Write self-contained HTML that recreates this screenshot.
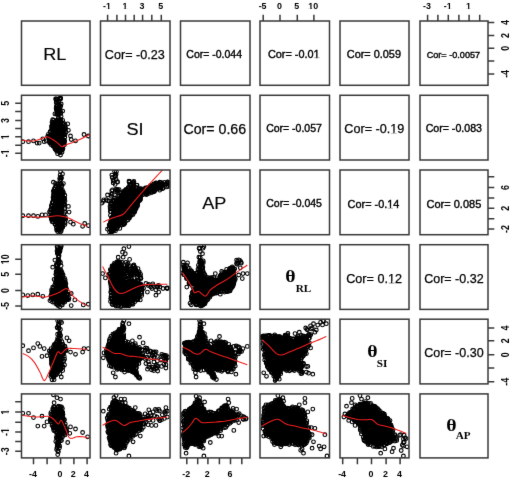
<!DOCTYPE html>
<html><head><meta charset="utf-8"><style>
html,body{margin:0;padding:0;background:#fff;width:510px;height:478px;overflow:hidden}
svg{display:block}

text{font-family:"Liberation Sans",sans-serif;fill:#000;stroke:#000;stroke-width:0}
.sf{font-family:"Liberation Serif",serif;font-weight:bold}
.ax text{font-size:8.9px;text-anchor:middle;font-weight:bold;stroke-width:0}
</style></head><body><div id="w">
<svg width="510" height="478" viewBox="0 0 510 478"><filter id="bl" x="0" y="0" width="1" height="1" color-interpolation-filters="sRGB"><feConvolveMatrix order="3" kernelMatrix="0.0052 0.0619 0.0052 0.0619 0.7314 0.0619 0.0052 0.0619 0.0052" edgeMode="duplicate"/></filter>
<g filter="url(#bl)">
<rect width="510" height="478" fill="#fff"/>
<clipPath id="c21"><rect x="21.5" y="95.3" width="68.5" height="64.7"/></clipPath>
<g clip-path="url(#c21)">
<path d="M54.6 120.1 L52.2 120.8 L51 130.1 L49 136.9 L49.5 142.6 L56.4 149.5 L58.5 155 L59.3 154.6 L61.7 149.9 L64.3 141.9 L64.3 136.2 L66.4 130.8 L65.3 126.4 L63.3 123.9 L61.2 120.1Z" fill="#000"/>
<g fill="none" stroke="#000" stroke-width="1.1">
<circle cx="61.2" cy="121.2" r="1.85"/>
<circle cx="52" cy="128.4" r="1.85"/>
<circle cx="49.1" cy="136.3" r="1.85"/>
<circle cx="56.6" cy="149.9" r="1.85"/>
<circle cx="49.9" cy="142.3" r="1.85"/>
<circle cx="50.1" cy="131.6" r="1.85"/>
<circle cx="50.9" cy="142.8" r="1.85"/>
<circle cx="50.7" cy="134.8" r="1.85"/>
<circle cx="64.1" cy="142.7" r="1.85"/>
<circle cx="50.2" cy="140.6" r="1.85"/>
<circle cx="51.9" cy="125.2" r="1.85"/>
<circle cx="64.6" cy="141.3" r="1.85"/>
<circle cx="52.9" cy="145" r="1.85"/>
<circle cx="65.3" cy="127" r="1.85"/>
<circle cx="49.9" cy="139.3" r="1.85"/>
<circle cx="56.2" cy="148.1" r="1.85"/>
<circle cx="64.3" cy="140.2" r="1.85"/>
<circle cx="50" cy="142.6" r="1.85"/>
<circle cx="56.6" cy="149.8" r="1.85"/>
<circle cx="49.1" cy="141.3" r="1.85"/>
<circle cx="59.7" cy="152.7" r="1.85"/>
<circle cx="52.2" cy="125.8" r="1.85"/>
<circle cx="64.6" cy="133.5" r="1.85"/>
<circle cx="56.8" cy="120.6" r="1.85"/>
<circle cx="48.7" cy="136.6" r="1.85"/>
<circle cx="55.7" cy="148.1" r="1.85"/>
<circle cx="59.9" cy="152.3" r="1.85"/>
<circle cx="61.7" cy="149" r="1.85"/>
<circle cx="50.1" cy="135.5" r="1.85"/>
<circle cx="57.4" cy="120.7" r="1.85"/>
<circle cx="54.7" cy="148" r="1.85"/>
<circle cx="63.9" cy="144.4" r="1.85"/>
<circle cx="53.8" cy="145.8" r="1.85"/>
<circle cx="63.9" cy="139.8" r="1.85"/>
<circle cx="59.6" cy="120.7" r="1.85"/>
<circle cx="55.8" cy="148.4" r="1.85"/>
<circle cx="61.1" cy="122" r="1.85"/>
<circle cx="52.1" cy="127.8" r="1.85"/>
<circle cx="64.1" cy="141.6" r="1.85"/>
<circle cx="62.1" cy="148.8" r="1.85"/>
<circle cx="52.9" cy="145.8" r="1.85"/>
<circle cx="63.7" cy="134.8" r="1.85"/>
<circle cx="62.9" cy="124.2" r="1.85"/>
<circle cx="52" cy="122.2" r="1.85"/>
<circle cx="51.9" cy="127" r="1.85"/>
<circle cx="59.5" cy="120.1" r="1.85"/>
<circle cx="61.3" cy="150" r="1.85"/>
<circle cx="52.1" cy="125.6" r="1.85"/>
<circle cx="57.9" cy="120.2" r="1.85"/>
<circle cx="61.4" cy="150.6" r="1.85"/>
<circle cx="53.4" cy="120.2" r="1.85"/>
<circle cx="52.7" cy="121.9" r="1.85"/>
<circle cx="52.3" cy="124" r="1.85"/>
<circle cx="51.6" cy="126.8" r="1.85"/>
<circle cx="51.4" cy="130.2" r="1.85"/>
<circle cx="50.5" cy="132" r="1.85"/>
<circle cx="48.4" cy="134.3" r="1.85"/>
<circle cx="47.6" cy="136.5" r="1.85"/>
<circle cx="49.1" cy="139.2" r="1.85"/>
<circle cx="49.5" cy="142.5" r="1.85"/>
<circle cx="50.9" cy="144.5" r="1.85"/>
<circle cx="53.3" cy="146.2" r="1.85"/>
<circle cx="55.1" cy="149.2" r="1.85"/>
<circle cx="55.9" cy="149.8" r="1.85"/>
<circle cx="56.7" cy="151.2" r="1.85"/>
<circle cx="57.6" cy="153.7" r="1.85"/>
<circle cx="60.5" cy="155" r="1.85"/>
<circle cx="62" cy="152.3" r="1.85"/>
<circle cx="62.7" cy="149.6" r="1.85"/>
<circle cx="63" cy="148.4" r="1.85"/>
<circle cx="64.5" cy="144.7" r="1.85"/>
<circle cx="64" cy="142.2" r="1.85"/>
<circle cx="63.9" cy="140.2" r="1.85"/>
<circle cx="64.8" cy="137.2" r="1.85"/>
<circle cx="65" cy="134.8" r="1.85"/>
<circle cx="66" cy="132.2" r="1.85"/>
<circle cx="65.5" cy="129.1" r="1.85"/>
<circle cx="65.2" cy="127.9" r="1.85"/>
<circle cx="65.2" cy="125.1" r="1.85"/>
<circle cx="64.2" cy="123.7" r="1.85"/>
<circle cx="62.7" cy="120.4" r="1.85"/>
<circle cx="60" cy="119.2" r="1.85"/>
<circle cx="57.2" cy="120.1" r="1.85"/>
<circle cx="58.4" cy="117.7" r="1.85"/>
<circle cx="60.3" cy="109.8" r="1.85"/>
<circle cx="56.5" cy="110.3" r="1.85"/>
<circle cx="58.3" cy="101.4" r="1.85"/>
<circle cx="56.1" cy="108.2" r="1.85"/>
<circle cx="56.5" cy="106.5" r="1.85"/>
<circle cx="59.5" cy="106.7" r="1.85"/>
<circle cx="57.3" cy="109.4" r="1.85"/>
<circle cx="58.1" cy="113.5" r="1.85"/>
<circle cx="58.7" cy="118.1" r="1.85"/>
<circle cx="61" cy="112.6" r="1.85"/>
<circle cx="57.1" cy="99.5" r="1.85"/>
<circle cx="60.7" cy="113.6" r="1.85"/>
<circle cx="59.2" cy="104.7" r="1.85"/>
<circle cx="57.3" cy="111.6" r="1.85"/>
<circle cx="58.9" cy="109.6" r="1.85"/>
<circle cx="59.3" cy="113" r="1.85"/>
<circle cx="56.9" cy="102.4" r="1.85"/>
<circle cx="61.1" cy="116.4" r="1.85"/>
<circle cx="60.6" cy="98" r="1.85"/>
<circle cx="56.2" cy="102.8" r="1.85"/>
<circle cx="58.1" cy="110.3" r="1.85"/>
<circle cx="56.4" cy="108.5" r="1.85"/>
<circle cx="56.2" cy="98.9" r="1.85"/>
<circle cx="59.5" cy="108.7" r="1.85"/>
<circle cx="59.3" cy="105" r="1.85"/>
<circle cx="58.4" cy="101.6" r="1.85"/>
<circle cx="57.7" cy="112.8" r="1.85"/>
<circle cx="60.4" cy="98.7" r="1.85"/>
<circle cx="56.5" cy="114.2" r="1.85"/>
<circle cx="59.2" cy="113.3" r="1.85"/>
<circle cx="57" cy="106.1" r="1.85"/>
<circle cx="57.2" cy="114.2" r="1.85"/>
<circle cx="57.8" cy="110.9" r="1.85"/>
<circle cx="61.2" cy="104" r="1.85"/>
<circle cx="58.8" cy="112.8" r="1.85"/>
<circle cx="60.8" cy="106.1" r="1.85"/>
<circle cx="57.8" cy="99.2" r="1.85"/>
<circle cx="60.6" cy="98.8" r="1.85"/>
<circle cx="56.3" cy="109" r="1.85"/>
<circle cx="58.5" cy="111.6" r="1.85"/>
<circle cx="57.5" cy="113.5" r="1.85"/>
<circle cx="56.3" cy="101.6" r="1.85"/>
<circle cx="59.4" cy="98.8" r="1.85"/>
<circle cx="22.8" cy="141.7" r="1.85"/>
<circle cx="28.5" cy="141.7" r="1.85"/>
<circle cx="33.5" cy="140.9" r="1.85"/>
<circle cx="37.1" cy="143.1" r="1.85"/>
<circle cx="39.2" cy="143.1" r="1.85"/>
<circle cx="42.8" cy="138.8" r="1.85"/>
<circle cx="44.2" cy="141.7" r="1.85"/>
<circle cx="46.3" cy="140.9" r="1.85"/>
<circle cx="70.5" cy="136" r="1.85"/>
<circle cx="71.2" cy="139.5" r="1.85"/>
<circle cx="75.5" cy="140.9" r="1.85"/>
<circle cx="84" cy="134.5" r="1.85"/>
<circle cx="88.3" cy="136" r="1.85"/>
<circle cx="67.7" cy="123.9" r="1.85"/>
<circle cx="68.4" cy="130.3" r="1.85"/>
<circle cx="55.6" cy="99" r="1.85"/>
<circle cx="59.8" cy="98.3" r="1.85"/>
<circle cx="56.3" cy="106.8" r="1.85"/>
<circle cx="62.7" cy="111.1" r="1.85"/>
<circle cx="54.9" cy="113.9" r="1.85"/>
<circle cx="52.7" cy="119.6" r="1.85"/>
</g>
<path d="M22.1 140.2C23.2 140.3 26.5 140.9 28.5 140.9C30.6 141 32.1 141 34.2 140.7C36.4 140.3 39.2 139.5 41.3 138.8C43.5 138.1 45.1 136.6 47 136.7C48.9 136.8 50.9 138.5 52.7 139.5C54.5 140.6 56.2 141.9 57.7 143.1C59.2 144.3 60.4 146.4 62 146.6C63.5 146.9 65.2 145.2 66.9 144.5C68.7 143.8 70.5 143.2 72.6 142.4C74.8 141.5 76.9 140.8 79.7 139.5C82.6 138.2 88 135.4 89.7 134.5" fill="none" stroke="#f01c1c" stroke-width="1.05"/>
</g>
<clipPath id="c31"><rect x="21.5" y="170" width="68.5" height="64.7"/></clipPath>
<g clip-path="url(#c31)">
<path d="M56.1 184.1 L54.6 189.9 L53.2 199.7 L50.4 214.7 L52.9 220.9 L56.6 226.7 L57.7 231.2 L60.3 231.6 L60.8 231.4 L64.5 224 L65.6 219.4 L63.6 213.9 L64.3 204.9 L64.3 198.2 L60.7 184.1Z" fill="#000"/>
<g fill="none" stroke="#000" stroke-width="1.1">
<circle cx="51.9" cy="218" r="1.85"/>
<circle cx="62.2" cy="226.3" r="1.85"/>
<circle cx="59.1" cy="230.4" r="1.85"/>
<circle cx="51.1" cy="210.1" r="1.85"/>
<circle cx="54" cy="194.4" r="1.85"/>
<circle cx="61.4" cy="227.9" r="1.85"/>
<circle cx="52.4" cy="219.5" r="1.85"/>
<circle cx="55" cy="189.3" r="1.85"/>
<circle cx="53.5" cy="195.1" r="1.85"/>
<circle cx="54.5" cy="192" r="1.85"/>
<circle cx="65.2" cy="222.4" r="1.85"/>
<circle cx="63.2" cy="224.6" r="1.85"/>
<circle cx="51.6" cy="206.9" r="1.85"/>
<circle cx="57.5" cy="229.9" r="1.85"/>
<circle cx="54.9" cy="221.8" r="1.85"/>
<circle cx="56.7" cy="228" r="1.85"/>
<circle cx="63.4" cy="198.8" r="1.85"/>
<circle cx="55" cy="187.4" r="1.85"/>
<circle cx="61" cy="188.8" r="1.85"/>
<circle cx="60.5" cy="184.3" r="1.85"/>
<circle cx="57.4" cy="184.2" r="1.85"/>
<circle cx="53.2" cy="219" r="1.85"/>
<circle cx="55.3" cy="223.7" r="1.85"/>
<circle cx="51.5" cy="216.4" r="1.85"/>
<circle cx="63.2" cy="202.4" r="1.85"/>
<circle cx="61.2" cy="231.1" r="1.85"/>
<circle cx="59.8" cy="184.6" r="1.85"/>
<circle cx="62.3" cy="227.3" r="1.85"/>
<circle cx="63.4" cy="193.2" r="1.85"/>
<circle cx="63.3" cy="197.7" r="1.85"/>
<circle cx="52.8" cy="208.8" r="1.85"/>
<circle cx="50.6" cy="216.1" r="1.85"/>
<circle cx="63.7" cy="203.5" r="1.85"/>
<circle cx="64.5" cy="199.2" r="1.85"/>
<circle cx="64.5" cy="219.1" r="1.85"/>
<circle cx="56.4" cy="186.2" r="1.85"/>
<circle cx="53.9" cy="198.5" r="1.85"/>
<circle cx="63.9" cy="204.1" r="1.85"/>
<circle cx="62.9" cy="194.4" r="1.85"/>
<circle cx="64.4" cy="198.6" r="1.85"/>
<circle cx="58" cy="228.8" r="1.85"/>
<circle cx="53.3" cy="198" r="1.85"/>
<circle cx="51.7" cy="218.8" r="1.85"/>
<circle cx="64" cy="218.2" r="1.85"/>
<circle cx="52.2" cy="217.3" r="1.85"/>
<circle cx="50.8" cy="212.7" r="1.85"/>
<circle cx="54.6" cy="195.8" r="1.85"/>
<circle cx="54" cy="197.2" r="1.85"/>
<circle cx="63.6" cy="216.8" r="1.85"/>
<circle cx="58.4" cy="229.7" r="1.85"/>
<circle cx="52.8" cy="221.4" r="1.85"/>
<circle cx="62.7" cy="195.1" r="1.85"/>
<circle cx="50.6" cy="212.5" r="1.85"/>
<circle cx="63.2" cy="192" r="1.85"/>
<circle cx="54.1" cy="191.4" r="1.85"/>
<circle cx="52.3" cy="205.7" r="1.85"/>
<circle cx="52.3" cy="202.7" r="1.85"/>
<circle cx="63.5" cy="202.1" r="1.85"/>
<circle cx="62.6" cy="194.1" r="1.85"/>
<circle cx="53.3" cy="202.2" r="1.85"/>
<circle cx="51.2" cy="217.1" r="1.85"/>
<circle cx="64.8" cy="218.3" r="1.85"/>
<circle cx="61.6" cy="227.5" r="1.85"/>
<circle cx="55.5" cy="183.5" r="1.85"/>
<circle cx="55.9" cy="186.1" r="1.85"/>
<circle cx="54.2" cy="189.1" r="1.85"/>
<circle cx="53.3" cy="191.1" r="1.85"/>
<circle cx="53.7" cy="193.4" r="1.85"/>
<circle cx="53" cy="197.3" r="1.85"/>
<circle cx="53.2" cy="199.1" r="1.85"/>
<circle cx="52.5" cy="202.4" r="1.85"/>
<circle cx="51.4" cy="205.3" r="1.85"/>
<circle cx="51.2" cy="208.6" r="1.85"/>
<circle cx="50.5" cy="209.9" r="1.85"/>
<circle cx="49.5" cy="211.8" r="1.85"/>
<circle cx="50.6" cy="216.6" r="1.85"/>
<circle cx="51.3" cy="219.3" r="1.85"/>
<circle cx="52.1" cy="221.7" r="1.85"/>
<circle cx="54.8" cy="223.9" r="1.85"/>
<circle cx="55.2" cy="224" r="1.85"/>
<circle cx="56.1" cy="226.6" r="1.85"/>
<circle cx="56.6" cy="230" r="1.85"/>
<circle cx="57.6" cy="231.5" r="1.85"/>
<circle cx="60.4" cy="232" r="1.85"/>
<circle cx="61.3" cy="229.3" r="1.85"/>
<circle cx="62.7" cy="227.2" r="1.85"/>
<circle cx="64.9" cy="224.6" r="1.85"/>
<circle cx="65" cy="222.4" r="1.85"/>
<circle cx="65.7" cy="219.2" r="1.85"/>
<circle cx="65.3" cy="216.8" r="1.85"/>
<circle cx="63.8" cy="213.7" r="1.85"/>
<circle cx="64.9" cy="212.2" r="1.85"/>
<circle cx="64.7" cy="208.9" r="1.85"/>
<circle cx="64.8" cy="207.4" r="1.85"/>
<circle cx="64.9" cy="204.9" r="1.85"/>
<circle cx="65" cy="201" r="1.85"/>
<circle cx="64.6" cy="198.2" r="1.85"/>
<circle cx="64.8" cy="195.2" r="1.85"/>
<circle cx="62.5" cy="192" r="1.85"/>
<circle cx="62.5" cy="190.5" r="1.85"/>
<circle cx="61.3" cy="186.9" r="1.85"/>
<circle cx="62" cy="185.5" r="1.85"/>
<circle cx="61.1" cy="183.6" r="1.85"/>
<circle cx="58.1" cy="184" r="1.85"/>
<circle cx="60.7" cy="177.2" r="1.85"/>
<circle cx="60.8" cy="179.6" r="1.85"/>
<circle cx="62.5" cy="173.9" r="1.85"/>
<circle cx="59.9" cy="180.2" r="1.85"/>
<circle cx="59.7" cy="178.3" r="1.85"/>
<circle cx="61.4" cy="177.9" r="1.85"/>
<circle cx="60.5" cy="171.6" r="1.85"/>
<circle cx="60.1" cy="175.1" r="1.85"/>
<circle cx="61.3" cy="178" r="1.85"/>
<circle cx="22.8" cy="215.7" r="1.85"/>
<circle cx="28.5" cy="215.7" r="1.85"/>
<circle cx="33.5" cy="215.7" r="1.85"/>
<circle cx="37.8" cy="216.4" r="1.85"/>
<circle cx="42" cy="214.9" r="1.85"/>
<circle cx="45.6" cy="214.9" r="1.85"/>
<circle cx="68.4" cy="206.4" r="1.85"/>
<circle cx="69.1" cy="212.1" r="1.85"/>
<circle cx="70.5" cy="222.1" r="1.85"/>
<circle cx="73.3" cy="224.2" r="1.85"/>
<circle cx="82.6" cy="226.3" r="1.85"/>
<circle cx="88.3" cy="225.6" r="1.85"/>
<circle cx="84.7" cy="223.5" r="1.85"/>
<circle cx="53.4" cy="182.2" r="1.85"/>
<circle cx="63.4" cy="183.6" r="1.85"/>
</g>
<path d="M22.1 216.4C24.1 216.5 30.3 217 34.2 217.1C38.1 217.2 41.8 217.3 45.6 217.1C49.4 216.8 53.7 215.7 57 215.7C60.3 215.7 62.9 216.4 65.5 217.1C68.1 217.8 70.3 218.9 72.6 219.9C75 221 77.3 222.4 79.7 223.5C82.2 224.5 86.3 225.8 87.6 226.3" fill="none" stroke="#f01c1c" stroke-width="1.05"/>
</g>
<clipPath id="c32"><rect x="100.5" y="170" width="69.5" height="64.7"/></clipPath>
<g clip-path="url(#c32)">
<path d="M122.1 193.4 L117.5 197.2 L115 198.5 L110.4 205.4 L111.6 209 L110.9 214.9 L111.6 221.1 L109.3 225.7 L108.8 230.2 L109.2 231.4 L113.7 230.9 L124.3 222.9 L128.3 218.9 L136.5 208 L142 194.3 L142.9 190 L138 189 L134.1 187 L129.7 187.6 L125.5 190Z" fill="#000"/>
<g fill="none" stroke="#000" stroke-width="1.1">
<circle cx="134.6" cy="210.7" r="1.85"/>
<circle cx="116.7" cy="197.9" r="1.85"/>
<circle cx="111.9" cy="218.5" r="1.85"/>
<circle cx="135.4" cy="208.3" r="1.85"/>
<circle cx="138.8" cy="189" r="1.85"/>
<circle cx="112.7" cy="203.6" r="1.85"/>
<circle cx="142.3" cy="192.7" r="1.85"/>
<circle cx="132.6" cy="211.3" r="1.85"/>
<circle cx="139.6" cy="200.6" r="1.85"/>
<circle cx="131.3" cy="214.8" r="1.85"/>
<circle cx="142.9" cy="191.2" r="1.85"/>
<circle cx="134.4" cy="211.3" r="1.85"/>
<circle cx="112.2" cy="231.2" r="1.85"/>
<circle cx="141" cy="193.5" r="1.85"/>
<circle cx="112.8" cy="231.3" r="1.85"/>
<circle cx="110.9" cy="211.7" r="1.85"/>
<circle cx="135.9" cy="208.8" r="1.85"/>
<circle cx="122" cy="225" r="1.85"/>
<circle cx="110.9" cy="231.2" r="1.85"/>
<circle cx="129.5" cy="218" r="1.85"/>
<circle cx="120.9" cy="195.5" r="1.85"/>
<circle cx="123.2" cy="223.7" r="1.85"/>
<circle cx="118.3" cy="226" r="1.85"/>
<circle cx="122.8" cy="192.6" r="1.85"/>
<circle cx="139.7" cy="198" r="1.85"/>
<circle cx="131.8" cy="214" r="1.85"/>
<circle cx="110.7" cy="207.5" r="1.85"/>
<circle cx="112.3" cy="222.3" r="1.85"/>
<circle cx="110.1" cy="224.4" r="1.85"/>
<circle cx="134.6" cy="208.6" r="1.85"/>
<circle cx="126.4" cy="220.7" r="1.85"/>
<circle cx="136.2" cy="205.8" r="1.85"/>
<circle cx="111.4" cy="231.1" r="1.85"/>
<circle cx="130.7" cy="187.6" r="1.85"/>
<circle cx="140.4" cy="190" r="1.85"/>
<circle cx="112" cy="220.2" r="1.85"/>
<circle cx="137.8" cy="202.8" r="1.85"/>
<circle cx="110.6" cy="223.9" r="1.85"/>
<circle cx="134" cy="210.8" r="1.85"/>
<circle cx="138.9" cy="189.4" r="1.85"/>
<circle cx="126.6" cy="190.1" r="1.85"/>
<circle cx="125.4" cy="190.2" r="1.85"/>
<circle cx="129" cy="217.6" r="1.85"/>
<circle cx="141" cy="190.5" r="1.85"/>
<circle cx="137.5" cy="205" r="1.85"/>
<circle cx="111.1" cy="221.1" r="1.85"/>
<circle cx="141.4" cy="195.3" r="1.85"/>
<circle cx="135" cy="210.4" r="1.85"/>
<circle cx="141.5" cy="190.3" r="1.85"/>
<circle cx="114" cy="201.5" r="1.85"/>
<circle cx="115" cy="229.3" r="1.85"/>
<circle cx="140.3" cy="197.2" r="1.85"/>
<circle cx="111.8" cy="217.7" r="1.85"/>
<circle cx="111.5" cy="209.1" r="1.85"/>
<circle cx="117.3" cy="227.4" r="1.85"/>
<circle cx="116.9" cy="228.2" r="1.85"/>
<circle cx="112.2" cy="231" r="1.85"/>
<circle cx="138.9" cy="200.7" r="1.85"/>
<circle cx="140.3" cy="199.7" r="1.85"/>
<circle cx="109.6" cy="225.6" r="1.85"/>
<circle cx="141.9" cy="192.1" r="1.85"/>
<circle cx="139.9" cy="198" r="1.85"/>
<circle cx="123.5" cy="191.4" r="1.85"/>
<circle cx="139.5" cy="189.2" r="1.85"/>
<circle cx="110.9" cy="204.3" r="1.85"/>
<circle cx="124.8" cy="191.4" r="1.85"/>
<circle cx="123.1" cy="193.2" r="1.85"/>
<circle cx="137.4" cy="203.8" r="1.85"/>
<circle cx="113.6" cy="200.7" r="1.85"/>
<circle cx="132.7" cy="187.9" r="1.85"/>
<circle cx="123.8" cy="223.3" r="1.85"/>
<circle cx="113.6" cy="230.2" r="1.85"/>
<circle cx="123.5" cy="224" r="1.85"/>
<circle cx="110.6" cy="224.6" r="1.85"/>
<circle cx="121.4" cy="192.8" r="1.85"/>
<circle cx="119.5" cy="195.7" r="1.85"/>
<circle cx="117.8" cy="196.1" r="1.85"/>
<circle cx="114.5" cy="198.2" r="1.85"/>
<circle cx="113.2" cy="200.1" r="1.85"/>
<circle cx="111.4" cy="202.6" r="1.85"/>
<circle cx="110.7" cy="204" r="1.85"/>
<circle cx="110" cy="206.4" r="1.85"/>
<circle cx="110.2" cy="208.8" r="1.85"/>
<circle cx="110.3" cy="211.5" r="1.85"/>
<circle cx="110.4" cy="215.3" r="1.85"/>
<circle cx="111.5" cy="217.6" r="1.85"/>
<circle cx="111.4" cy="220.6" r="1.85"/>
<circle cx="110.3" cy="222.3" r="1.85"/>
<circle cx="109.2" cy="224.9" r="1.85"/>
<circle cx="109.3" cy="228.2" r="1.85"/>
<circle cx="107.5" cy="229.2" r="1.85"/>
<circle cx="109.5" cy="232" r="1.85"/>
<circle cx="111.3" cy="232.2" r="1.85"/>
<circle cx="115.5" cy="230.7" r="1.85"/>
<circle cx="117" cy="228.6" r="1.85"/>
<circle cx="119.8" cy="228.4" r="1.85"/>
<circle cx="122.2" cy="224.6" r="1.85"/>
<circle cx="123.8" cy="224.6" r="1.85"/>
<circle cx="124.8" cy="223.4" r="1.85"/>
<circle cx="128" cy="219.9" r="1.85"/>
<circle cx="128.4" cy="217.6" r="1.85"/>
<circle cx="130.6" cy="216.1" r="1.85"/>
<circle cx="133" cy="214.5" r="1.85"/>
<circle cx="134" cy="212.4" r="1.85"/>
<circle cx="134.8" cy="211.7" r="1.85"/>
<circle cx="136.3" cy="208" r="1.85"/>
<circle cx="137.5" cy="206" r="1.85"/>
<circle cx="137.9" cy="202.7" r="1.85"/>
<circle cx="139.3" cy="199.9" r="1.85"/>
<circle cx="140.5" cy="199.1" r="1.85"/>
<circle cx="140.9" cy="196.3" r="1.85"/>
<circle cx="143.1" cy="194.5" r="1.85"/>
<circle cx="142.3" cy="189.7" r="1.85"/>
<circle cx="141" cy="188.7" r="1.85"/>
<circle cx="139.7" cy="189" r="1.85"/>
<circle cx="136.1" cy="187.3" r="1.85"/>
<circle cx="133.7" cy="187" r="1.85"/>
<circle cx="132.9" cy="186" r="1.85"/>
<circle cx="129.3" cy="187.9" r="1.85"/>
<circle cx="128.1" cy="187.7" r="1.85"/>
<circle cx="126" cy="189.3" r="1.85"/>
<circle cx="124.3" cy="191.8" r="1.85"/>
<circle cx="150.5" cy="185.6" r="1.85"/>
<circle cx="160.4" cy="187" r="1.85"/>
<circle cx="162.7" cy="188.5" r="1.85"/>
<circle cx="146" cy="188.5" r="1.85"/>
<circle cx="154.2" cy="189.1" r="1.85"/>
<circle cx="149.1" cy="188.6" r="1.85"/>
<circle cx="158.8" cy="184.9" r="1.85"/>
<circle cx="149.3" cy="191.8" r="1.85"/>
<circle cx="146.5" cy="193.8" r="1.85"/>
<circle cx="145.8" cy="193.3" r="1.85"/>
<circle cx="166.7" cy="186.9" r="1.85"/>
<circle cx="167.7" cy="182" r="1.85"/>
<circle cx="149.6" cy="190.6" r="1.85"/>
<circle cx="158.1" cy="186.9" r="1.85"/>
<circle cx="148.3" cy="189.6" r="1.85"/>
<circle cx="157.4" cy="187" r="1.85"/>
<circle cx="160.1" cy="184.3" r="1.85"/>
<circle cx="154.4" cy="189.2" r="1.85"/>
<circle cx="168.3" cy="183.4" r="1.85"/>
<circle cx="154.2" cy="191.6" r="1.85"/>
<circle cx="153.9" cy="191.6" r="1.85"/>
<circle cx="167.5" cy="182.1" r="1.85"/>
<circle cx="151.7" cy="185.7" r="1.85"/>
<circle cx="149.2" cy="187.1" r="1.85"/>
<circle cx="153.7" cy="190.1" r="1.85"/>
<circle cx="148.2" cy="187.3" r="1.85"/>
<circle cx="158.8" cy="183.4" r="1.85"/>
<circle cx="164.3" cy="182.4" r="1.85"/>
<circle cx="160.4" cy="185.5" r="1.85"/>
<circle cx="152.7" cy="190.1" r="1.85"/>
<circle cx="149.4" cy="187.9" r="1.85"/>
<circle cx="151.2" cy="186.7" r="1.85"/>
<circle cx="162.1" cy="184.2" r="1.85"/>
<circle cx="166" cy="184.3" r="1.85"/>
<circle cx="158.6" cy="186.3" r="1.85"/>
<circle cx="160.7" cy="182.4" r="1.85"/>
<circle cx="162.6" cy="184.8" r="1.85"/>
<circle cx="155.2" cy="186" r="1.85"/>
<circle cx="154.6" cy="186" r="1.85"/>
<circle cx="163.3" cy="188.1" r="1.85"/>
<circle cx="161.9" cy="183.7" r="1.85"/>
<circle cx="149.7" cy="190.3" r="1.85"/>
<circle cx="155" cy="184.1" r="1.85"/>
<circle cx="145.4" cy="188" r="1.85"/>
<circle cx="158" cy="183.3" r="1.85"/>
<circle cx="151.8" cy="192.5" r="1.85"/>
<circle cx="160.5" cy="188.2" r="1.85"/>
<circle cx="151.2" cy="190.1" r="1.85"/>
<circle cx="157.4" cy="188.8" r="1.85"/>
<circle cx="151.9" cy="188" r="1.85"/>
<circle cx="156.8" cy="187.2" r="1.85"/>
<circle cx="156.7" cy="186.6" r="1.85"/>
<circle cx="161.7" cy="183.7" r="1.85"/>
<circle cx="148.3" cy="187.5" r="1.85"/>
<circle cx="155.8" cy="185.7" r="1.85"/>
<circle cx="146.2" cy="191.1" r="1.85"/>
<circle cx="149.9" cy="187.9" r="1.85"/>
<circle cx="159.8" cy="182.2" r="1.85"/>
<circle cx="168.2" cy="186.3" r="1.85"/>
<circle cx="148.2" cy="192.6" r="1.85"/>
<circle cx="161" cy="188.2" r="1.85"/>
<circle cx="159.8" cy="188.2" r="1.85"/>
<circle cx="149.8" cy="190.7" r="1.85"/>
<circle cx="146.4" cy="194.7" r="1.85"/>
<circle cx="152.6" cy="191.8" r="1.85"/>
<circle cx="145.6" cy="188.7" r="1.85"/>
<circle cx="148.1" cy="189.3" r="1.85"/>
<circle cx="150.8" cy="189.4" r="1.85"/>
<circle cx="153" cy="187.5" r="1.85"/>
<circle cx="156.3" cy="183.2" r="1.85"/>
<circle cx="160.8" cy="186.7" r="1.85"/>
<circle cx="153.9" cy="184" r="1.85"/>
<circle cx="147.8" cy="191.5" r="1.85"/>
<circle cx="159.7" cy="190.2" r="1.85"/>
<circle cx="154.8" cy="190.7" r="1.85"/>
<circle cx="154" cy="187.4" r="1.85"/>
<circle cx="153.8" cy="190.7" r="1.85"/>
<circle cx="153.4" cy="186.5" r="1.85"/>
<circle cx="154.3" cy="190.7" r="1.85"/>
<circle cx="150.9" cy="186" r="1.85"/>
<circle cx="147.1" cy="192.9" r="1.85"/>
<circle cx="106.3" cy="199.6" r="1.85"/>
<circle cx="116.4" cy="171.8" r="1.85"/>
<circle cx="117.6" cy="190.6" r="1.85"/>
<circle cx="113.8" cy="181.3" r="1.85"/>
<circle cx="109" cy="201" r="1.85"/>
<circle cx="119.1" cy="189.6" r="1.85"/>
<circle cx="116.9" cy="192" r="1.85"/>
<circle cx="111.3" cy="196.3" r="1.85"/>
<circle cx="115.2" cy="176" r="1.85"/>
<circle cx="112.1" cy="194.2" r="1.85"/>
<circle cx="115.6" cy="189.5" r="1.85"/>
<circle cx="113.1" cy="180" r="1.85"/>
<circle cx="117.4" cy="181.7" r="1.85"/>
<circle cx="103.7" cy="199.8" r="1.85"/>
<circle cx="117.2" cy="190.2" r="1.85"/>
<circle cx="115.1" cy="184.4" r="1.85"/>
<circle cx="112.2" cy="177.5" r="1.85"/>
<circle cx="115.3" cy="174.3" r="1.85"/>
<circle cx="112.5" cy="189.9" r="1.85"/>
<circle cx="101.9" cy="203.1" r="1.85"/>
<circle cx="129.5" cy="185.4" r="1.85"/>
<circle cx="137.1" cy="185.3" r="1.85"/>
<circle cx="129" cy="181.1" r="1.85"/>
<circle cx="130.4" cy="185.9" r="1.85"/>
<circle cx="129.1" cy="182.3" r="1.85"/>
<circle cx="130.5" cy="184.2" r="1.85"/>
<circle cx="136.7" cy="185.1" r="1.85"/>
<circle cx="133" cy="183" r="1.85"/>
<circle cx="133.4" cy="182.5" r="1.85"/>
<circle cx="133.3" cy="184.5" r="1.85"/>
<circle cx="103.3" cy="201.4" r="1.85"/>
<circle cx="107.5" cy="200.7" r="1.85"/>
<circle cx="107.5" cy="195" r="1.85"/>
<circle cx="111.1" cy="194.3" r="1.85"/>
<circle cx="111.8" cy="190.8" r="1.85"/>
<circle cx="115.4" cy="191.5" r="1.85"/>
<circle cx="117.5" cy="189.3" r="1.85"/>
<circle cx="113.2" cy="182.9" r="1.85"/>
<circle cx="111.8" cy="175.1" r="1.85"/>
<circle cx="116.1" cy="174.4" r="1.85"/>
<circle cx="114.6" cy="171.6" r="1.85"/>
<circle cx="115.4" cy="176.5" r="1.85"/>
<circle cx="116.1" cy="179.4" r="1.85"/>
<circle cx="117.5" cy="182.2" r="1.85"/>
<circle cx="129.6" cy="181.5" r="1.85"/>
<circle cx="133.9" cy="181.5" r="1.85"/>
<circle cx="148.8" cy="193.6" r="1.85"/>
<circle cx="150.2" cy="189.3" r="1.85"/>
<circle cx="153.1" cy="187.9" r="1.85"/>
<circle cx="155.9" cy="182.9" r="1.85"/>
<circle cx="160.2" cy="185.1" r="1.85"/>
<circle cx="163" cy="183.6" r="1.85"/>
<circle cx="167.3" cy="183.6" r="1.85"/>
<circle cx="168.7" cy="184.4" r="1.85"/>
<circle cx="157.3" cy="187.9" r="1.85"/>
<circle cx="161.6" cy="186.5" r="1.85"/>
<circle cx="148.1" cy="190.8" r="1.85"/>
</g>
<path d="M103.3 222.1C104.9 221.3 109.9 219.1 113.2 217.8C116.5 216.5 120.6 215.9 123.2 214.2C125.8 212.6 126.7 210.3 128.9 207.8C131 205.3 133.1 202.6 136 199.3C138.8 196 141.4 192.9 145.9 187.9C150.4 182.9 160.2 172.5 163 169.4" fill="none" stroke="#f01c1c" stroke-width="1.05"/>
</g>
<clipPath id="c41"><rect x="21.5" y="244.7" width="68.5" height="64.7"/></clipPath>
<g clip-path="url(#c41)">
<path d="M57.8 261.2 L56.7 267.5 L56 276 L54.5 286.5 L51.7 292.1 L51.1 298 L52.6 301 L59.7 306 L65.3 300.7 L68.1 298.8 L67.3 296.3 L65.8 288.9 L65.1 282 L60.1 267.8 L59 261.2Z" fill="#000"/>
<g fill="none" stroke="#000" stroke-width="1.1">
<circle cx="67.6" cy="299.1" r="1.85"/>
<circle cx="51" cy="295.8" r="1.85"/>
<circle cx="56.1" cy="281.5" r="1.85"/>
<circle cx="61.5" cy="304.7" r="1.85"/>
<circle cx="56.1" cy="281" r="1.85"/>
<circle cx="65.7" cy="292" r="1.85"/>
<circle cx="54.3" cy="301.9" r="1.85"/>
<circle cx="55.9" cy="280" r="1.85"/>
<circle cx="56.8" cy="271.2" r="1.85"/>
<circle cx="62.8" cy="276.2" r="1.85"/>
<circle cx="56" cy="274.5" r="1.85"/>
<circle cx="59.3" cy="261.7" r="1.85"/>
<circle cx="64.8" cy="286.3" r="1.85"/>
<circle cx="64.1" cy="283.8" r="1.85"/>
<circle cx="66.7" cy="294" r="1.85"/>
<circle cx="57.4" cy="304.2" r="1.85"/>
<circle cx="63.8" cy="301" r="1.85"/>
<circle cx="52.1" cy="293.3" r="1.85"/>
<circle cx="56.8" cy="265.6" r="1.85"/>
<circle cx="66.9" cy="298.7" r="1.85"/>
<circle cx="67.3" cy="299.3" r="1.85"/>
<circle cx="51.8" cy="294.2" r="1.85"/>
<circle cx="63.1" cy="277.6" r="1.85"/>
<circle cx="66.8" cy="293.9" r="1.85"/>
<circle cx="65.1" cy="282" r="1.85"/>
<circle cx="62.9" cy="302.5" r="1.85"/>
<circle cx="58.9" cy="261.5" r="1.85"/>
<circle cx="66.1" cy="288.8" r="1.85"/>
<circle cx="65.6" cy="289.4" r="1.85"/>
<circle cx="56.2" cy="278.9" r="1.85"/>
<circle cx="55.9" cy="283.2" r="1.85"/>
<circle cx="57" cy="273.9" r="1.85"/>
<circle cx="66.2" cy="294.7" r="1.85"/>
<circle cx="52" cy="291.4" r="1.85"/>
<circle cx="65.3" cy="283.5" r="1.85"/>
<circle cx="58.7" cy="262.1" r="1.85"/>
<circle cx="57.3" cy="269.5" r="1.85"/>
<circle cx="57.3" cy="304.3" r="1.85"/>
<circle cx="57" cy="264.6" r="1.85"/>
<circle cx="57.1" cy="270.2" r="1.85"/>
<circle cx="55.7" cy="286.1" r="1.85"/>
<circle cx="52.3" cy="292.6" r="1.85"/>
<circle cx="58.2" cy="263.1" r="1.85"/>
<circle cx="52.2" cy="297.6" r="1.85"/>
<circle cx="52.8" cy="290.2" r="1.85"/>
<circle cx="64.4" cy="282.5" r="1.85"/>
<circle cx="51.8" cy="291.8" r="1.85"/>
<circle cx="58.6" cy="263.4" r="1.85"/>
<circle cx="64.8" cy="286.9" r="1.85"/>
<circle cx="58.9" cy="263.7" r="1.85"/>
<circle cx="65.5" cy="288.7" r="1.85"/>
<circle cx="65.7" cy="287.6" r="1.85"/>
<circle cx="51.2" cy="297.7" r="1.85"/>
<circle cx="67" cy="295" r="1.85"/>
<circle cx="62.8" cy="301.6" r="1.85"/>
<circle cx="56.9" cy="304.4" r="1.85"/>
<circle cx="61.1" cy="272.6" r="1.85"/>
<circle cx="62.3" cy="275" r="1.85"/>
<circle cx="61.6" cy="271.9" r="1.85"/>
<circle cx="58" cy="260.3" r="1.85"/>
<circle cx="56.3" cy="264.4" r="1.85"/>
<circle cx="57" cy="268.2" r="1.85"/>
<circle cx="56.3" cy="271.2" r="1.85"/>
<circle cx="56.1" cy="272" r="1.85"/>
<circle cx="55.9" cy="274.2" r="1.85"/>
<circle cx="56.1" cy="278.2" r="1.85"/>
<circle cx="54.1" cy="279.4" r="1.85"/>
<circle cx="55.4" cy="282.8" r="1.85"/>
<circle cx="54.5" cy="285.5" r="1.85"/>
<circle cx="53.3" cy="288.2" r="1.85"/>
<circle cx="51.6" cy="289.8" r="1.85"/>
<circle cx="52.1" cy="292.9" r="1.85"/>
<circle cx="51" cy="295.4" r="1.85"/>
<circle cx="51.3" cy="296.7" r="1.85"/>
<circle cx="51.2" cy="299.4" r="1.85"/>
<circle cx="52.5" cy="302" r="1.85"/>
<circle cx="55.7" cy="303.7" r="1.85"/>
<circle cx="58.2" cy="305.7" r="1.85"/>
<circle cx="59.9" cy="306.8" r="1.85"/>
<circle cx="62.3" cy="304.9" r="1.85"/>
<circle cx="64.8" cy="302.1" r="1.85"/>
<circle cx="65.9" cy="300.2" r="1.85"/>
<circle cx="68.6" cy="299.7" r="1.85"/>
<circle cx="69" cy="298.3" r="1.85"/>
<circle cx="68.3" cy="294.5" r="1.85"/>
<circle cx="66" cy="290.9" r="1.85"/>
<circle cx="66.6" cy="289.2" r="1.85"/>
<circle cx="65.8" cy="286.5" r="1.85"/>
<circle cx="65.9" cy="283.7" r="1.85"/>
<circle cx="65.2" cy="280.1" r="1.85"/>
<circle cx="64.6" cy="278.3" r="1.85"/>
<circle cx="63.1" cy="274.8" r="1.85"/>
<circle cx="62.2" cy="273" r="1.85"/>
<circle cx="60.8" cy="271" r="1.85"/>
<circle cx="61" cy="270.1" r="1.85"/>
<circle cx="61.1" cy="265.7" r="1.85"/>
<circle cx="60.5" cy="262.5" r="1.85"/>
<circle cx="59" cy="260.2" r="1.85"/>
<circle cx="57.8" cy="251.1" r="1.85"/>
<circle cx="61.1" cy="246.7" r="1.85"/>
<circle cx="59" cy="251.5" r="1.85"/>
<circle cx="59.1" cy="255.8" r="1.85"/>
<circle cx="59.4" cy="249.5" r="1.85"/>
<circle cx="57.3" cy="252.5" r="1.85"/>
<circle cx="61.1" cy="245.8" r="1.85"/>
<circle cx="59.7" cy="251.7" r="1.85"/>
<circle cx="57.4" cy="247.3" r="1.85"/>
<circle cx="57" cy="251" r="1.85"/>
<circle cx="58.3" cy="253.3" r="1.85"/>
<circle cx="57.3" cy="253.5" r="1.85"/>
<circle cx="58.6" cy="255.9" r="1.85"/>
<circle cx="60.7" cy="248.3" r="1.85"/>
<circle cx="57.7" cy="248.6" r="1.85"/>
<circle cx="60.1" cy="251" r="1.85"/>
<circle cx="57" cy="246.6" r="1.85"/>
<circle cx="59.8" cy="248.7" r="1.85"/>
<circle cx="59.1" cy="253" r="1.85"/>
<circle cx="58.4" cy="257.2" r="1.85"/>
<circle cx="22.8" cy="294.9" r="1.85"/>
<circle cx="27.8" cy="295.6" r="1.85"/>
<circle cx="32.8" cy="294.9" r="1.85"/>
<circle cx="37.8" cy="294.2" r="1.85"/>
<circle cx="42.8" cy="296.3" r="1.85"/>
<circle cx="71.2" cy="293.5" r="1.85"/>
<circle cx="74.8" cy="299.9" r="1.85"/>
<circle cx="71.2" cy="305.6" r="1.85"/>
<circle cx="83.3" cy="304.9" r="1.85"/>
<circle cx="88.3" cy="304.2" r="1.85"/>
<circle cx="52.7" cy="267.2" r="1.85"/>
<circle cx="54.9" cy="260.1" r="1.85"/>
<circle cx="52.7" cy="287.1" r="1.85"/>
<circle cx="49.9" cy="300.6" r="1.85"/>
</g>
<path d="M22.1 297.1C23.2 296.9 26.5 296.5 28.5 296.3C30.6 296.2 32.1 295.8 34.2 295.9C36.4 296 39.4 296.6 41.3 296.8C43.2 297 43.9 297.2 45.6 297.1C47.3 296.9 49.2 296.3 51.3 295.6C53.4 294.9 56 293.9 58.4 292.8C60.8 291.6 63.7 289.3 65.5 288.8C67.3 288.3 67.9 288.8 69.1 289.9C70.3 291.1 71.1 293.9 72.6 295.6C74.2 297.4 76 299 78.3 300.6C80.7 302.3 85.4 304.8 86.9 305.6" fill="none" stroke="#f01c1c" stroke-width="1.05"/>
</g>
<clipPath id="c42"><rect x="100.5" y="244.7" width="69.5" height="64.7"/></clipPath>
<g clip-path="url(#c42)">
<path d="M110.1 270.7 L110.1 277 L112.1 304 L114.1 305.2 L120.3 305.8 L126.9 305.2 L133.4 303.2 L136.8 301 L142.1 290.5 L143.1 286.5 L139.1 282.7 L134 281.8 L124.4 279.2 L122.8 268.4 L121.6 263 L119.6 261.4 L117.2 261.8 L113.8 264.6Z" fill="#000"/>
<g fill="none" stroke="#000" stroke-width="1.1">
<circle cx="128.7" cy="304" r="1.85"/>
<circle cx="111.5" cy="298" r="1.85"/>
<circle cx="119" cy="262.3" r="1.85"/>
<circle cx="126.3" cy="304.8" r="1.85"/>
<circle cx="121" cy="306.1" r="1.85"/>
<circle cx="130.7" cy="281.1" r="1.85"/>
<circle cx="138" cy="296.5" r="1.85"/>
<circle cx="113.2" cy="266.8" r="1.85"/>
<circle cx="140.9" cy="292.1" r="1.85"/>
<circle cx="111.3" cy="295.7" r="1.85"/>
<circle cx="112" cy="269.5" r="1.85"/>
<circle cx="110.1" cy="273.6" r="1.85"/>
<circle cx="119.2" cy="261.8" r="1.85"/>
<circle cx="110.7" cy="284.7" r="1.85"/>
<circle cx="122" cy="268.2" r="1.85"/>
<circle cx="132.4" cy="303.5" r="1.85"/>
<circle cx="115" cy="264.3" r="1.85"/>
<circle cx="131.4" cy="281" r="1.85"/>
<circle cx="135.5" cy="282.7" r="1.85"/>
<circle cx="126.3" cy="280.3" r="1.85"/>
<circle cx="110.6" cy="282.2" r="1.85"/>
<circle cx="111.1" cy="290.2" r="1.85"/>
<circle cx="131.7" cy="282.1" r="1.85"/>
<circle cx="112.5" cy="298.8" r="1.85"/>
<circle cx="142.1" cy="286.2" r="1.85"/>
<circle cx="120.6" cy="263.5" r="1.85"/>
<circle cx="138" cy="296.6" r="1.85"/>
<circle cx="110.2" cy="281.4" r="1.85"/>
<circle cx="125" cy="304.8" r="1.85"/>
<circle cx="140.7" cy="285" r="1.85"/>
<circle cx="111.4" cy="295.3" r="1.85"/>
<circle cx="113.8" cy="265.6" r="1.85"/>
<circle cx="123.2" cy="276.8" r="1.85"/>
<circle cx="124" cy="276.9" r="1.85"/>
<circle cx="141.2" cy="289.1" r="1.85"/>
<circle cx="112.1" cy="267.2" r="1.85"/>
<circle cx="111.5" cy="299" r="1.85"/>
<circle cx="112.9" cy="302.3" r="1.85"/>
<circle cx="117.8" cy="262.2" r="1.85"/>
<circle cx="137" cy="299.7" r="1.85"/>
<circle cx="114.7" cy="304.7" r="1.85"/>
<circle cx="118" cy="261.8" r="1.85"/>
<circle cx="139.6" cy="283.6" r="1.85"/>
<circle cx="132.7" cy="282.2" r="1.85"/>
<circle cx="112.8" cy="304.7" r="1.85"/>
<circle cx="127.1" cy="305.3" r="1.85"/>
<circle cx="139.2" cy="296" r="1.85"/>
<circle cx="131.4" cy="304.1" r="1.85"/>
<circle cx="111.5" cy="270" r="1.85"/>
<circle cx="112.2" cy="290.2" r="1.85"/>
<circle cx="141.9" cy="289.7" r="1.85"/>
<circle cx="131.8" cy="302.9" r="1.85"/>
<circle cx="122.1" cy="270.6" r="1.85"/>
<circle cx="137.2" cy="282.3" r="1.85"/>
<circle cx="137.9" cy="298.7" r="1.85"/>
<circle cx="110.7" cy="276.2" r="1.85"/>
<circle cx="121.6" cy="266.8" r="1.85"/>
<circle cx="118" cy="306" r="1.85"/>
<circle cx="121.7" cy="305.2" r="1.85"/>
<circle cx="142.3" cy="289.7" r="1.85"/>
<circle cx="117.4" cy="263.2" r="1.85"/>
<circle cx="111" cy="270.4" r="1.85"/>
<circle cx="111.3" cy="279.1" r="1.85"/>
<circle cx="137.3" cy="282.7" r="1.85"/>
<circle cx="140.6" cy="285.6" r="1.85"/>
<circle cx="122.8" cy="275.1" r="1.85"/>
<circle cx="117.1" cy="261.9" r="1.85"/>
<circle cx="133.6" cy="281.9" r="1.85"/>
<circle cx="141.9" cy="289.6" r="1.85"/>
<circle cx="123.5" cy="274.2" r="1.85"/>
<circle cx="141.8" cy="289.7" r="1.85"/>
<circle cx="111.4" cy="292.1" r="1.85"/>
<circle cx="126.8" cy="279.6" r="1.85"/>
<circle cx="121.3" cy="265.1" r="1.85"/>
<circle cx="110.7" cy="277.3" r="1.85"/>
<circle cx="122.9" cy="273.4" r="1.85"/>
<circle cx="112.4" cy="266.5" r="1.85"/>
<circle cx="110.7" cy="273" r="1.85"/>
<circle cx="109.1" cy="274.2" r="1.85"/>
<circle cx="109" cy="276.2" r="1.85"/>
<circle cx="110.8" cy="280.7" r="1.85"/>
<circle cx="110.6" cy="282.5" r="1.85"/>
<circle cx="111.3" cy="285.7" r="1.85"/>
<circle cx="111" cy="287.4" r="1.85"/>
<circle cx="111.6" cy="290" r="1.85"/>
<circle cx="110.7" cy="292.3" r="1.85"/>
<circle cx="111" cy="296.2" r="1.85"/>
<circle cx="110.7" cy="298.4" r="1.85"/>
<circle cx="110.5" cy="301.6" r="1.85"/>
<circle cx="112.3" cy="301.7" r="1.85"/>
<circle cx="112.1" cy="304.2" r="1.85"/>
<circle cx="116" cy="306" r="1.85"/>
<circle cx="117.6" cy="305.6" r="1.85"/>
<circle cx="120.8" cy="306.7" r="1.85"/>
<circle cx="124.5" cy="305.9" r="1.85"/>
<circle cx="126.6" cy="305.7" r="1.85"/>
<circle cx="129.1" cy="305.8" r="1.85"/>
<circle cx="129.2" cy="305" r="1.85"/>
<circle cx="133" cy="304.3" r="1.85"/>
<circle cx="135.1" cy="301.5" r="1.85"/>
<circle cx="137.7" cy="299.8" r="1.85"/>
<circle cx="138.3" cy="298.5" r="1.85"/>
<circle cx="139.3" cy="295.8" r="1.85"/>
<circle cx="141.8" cy="293.5" r="1.85"/>
<circle cx="141.5" cy="292.2" r="1.85"/>
<circle cx="143.6" cy="288.2" r="1.85"/>
<circle cx="142.1" cy="286.3" r="1.85"/>
<circle cx="140.8" cy="284.2" r="1.85"/>
<circle cx="138.9" cy="283.5" r="1.85"/>
<circle cx="137.9" cy="281.1" r="1.85"/>
<circle cx="134.7" cy="282.2" r="1.85"/>
<circle cx="131.9" cy="280.8" r="1.85"/>
<circle cx="130.5" cy="281" r="1.85"/>
<circle cx="127.9" cy="279.3" r="1.85"/>
<circle cx="125" cy="277" r="1.85"/>
<circle cx="124.1" cy="275.7" r="1.85"/>
<circle cx="124.3" cy="272.9" r="1.85"/>
<circle cx="124.1" cy="270.9" r="1.85"/>
<circle cx="122.4" cy="268" r="1.85"/>
<circle cx="122.1" cy="265.5" r="1.85"/>
<circle cx="121.8" cy="262.1" r="1.85"/>
<circle cx="119.6" cy="261.9" r="1.85"/>
<circle cx="117.7" cy="261.7" r="1.85"/>
<circle cx="114.5" cy="263.1" r="1.85"/>
<circle cx="113.8" cy="265" r="1.85"/>
<circle cx="112" cy="265.9" r="1.85"/>
<circle cx="110.3" cy="269.6" r="1.85"/>
<circle cx="126.2" cy="268.2" r="1.85"/>
<circle cx="125.4" cy="268.7" r="1.85"/>
<circle cx="132.2" cy="270.3" r="1.85"/>
<circle cx="127" cy="264.3" r="1.85"/>
<circle cx="136.5" cy="271.1" r="1.85"/>
<circle cx="131.5" cy="270.6" r="1.85"/>
<circle cx="131.5" cy="274.3" r="1.85"/>
<circle cx="133.1" cy="265.8" r="1.85"/>
<circle cx="134.7" cy="270" r="1.85"/>
<circle cx="138" cy="280" r="1.85"/>
<circle cx="137.6" cy="273.1" r="1.85"/>
<circle cx="130.9" cy="272.4" r="1.85"/>
<circle cx="128.8" cy="278" r="1.85"/>
<circle cx="129.9" cy="272.2" r="1.85"/>
<circle cx="135.9" cy="272.5" r="1.85"/>
<circle cx="130.7" cy="275.7" r="1.85"/>
<circle cx="134.1" cy="266.1" r="1.85"/>
<circle cx="125.3" cy="271.5" r="1.85"/>
<circle cx="140.7" cy="277.8" r="1.85"/>
<circle cx="139" cy="272.9" r="1.85"/>
<circle cx="133.3" cy="266.6" r="1.85"/>
<circle cx="126.9" cy="269.6" r="1.85"/>
<circle cx="139.3" cy="271.8" r="1.85"/>
<circle cx="133.9" cy="272.6" r="1.85"/>
<circle cx="131.6" cy="278.8" r="1.85"/>
<circle cx="140.6" cy="274.3" r="1.85"/>
<circle cx="130.6" cy="275.6" r="1.85"/>
<circle cx="131.7" cy="274.6" r="1.85"/>
<circle cx="133.2" cy="273.3" r="1.85"/>
<circle cx="140.9" cy="278.5" r="1.85"/>
<circle cx="132.8" cy="268.5" r="1.85"/>
<circle cx="137.1" cy="274.1" r="1.85"/>
<circle cx="125.7" cy="270.9" r="1.85"/>
<circle cx="129.1" cy="273.7" r="1.85"/>
<circle cx="127" cy="266.7" r="1.85"/>
<circle cx="128.6" cy="266.4" r="1.85"/>
<circle cx="134.4" cy="278" r="1.85"/>
<circle cx="135.7" cy="273.7" r="1.85"/>
<circle cx="138" cy="268.6" r="1.85"/>
<circle cx="131.8" cy="273.8" r="1.85"/>
<circle cx="127.7" cy="275.8" r="1.85"/>
<circle cx="140.9" cy="278.3" r="1.85"/>
<circle cx="128" cy="263.4" r="1.85"/>
<circle cx="135.3" cy="267.7" r="1.85"/>
<circle cx="127.2" cy="272.9" r="1.85"/>
<circle cx="133.8" cy="271.5" r="1.85"/>
<circle cx="133.4" cy="273.1" r="1.85"/>
<circle cx="138.3" cy="275.1" r="1.85"/>
<circle cx="136.9" cy="277.3" r="1.85"/>
<circle cx="132.6" cy="273.5" r="1.85"/>
<circle cx="126" cy="262.4" r="1.85"/>
<circle cx="132.3" cy="274.3" r="1.85"/>
<circle cx="129.2" cy="270.6" r="1.85"/>
<circle cx="155.9" cy="295.2" r="1.85"/>
<circle cx="148.2" cy="285.5" r="1.85"/>
<circle cx="159.9" cy="287" r="1.85"/>
<circle cx="152.8" cy="283.9" r="1.85"/>
<circle cx="166.7" cy="288.1" r="1.85"/>
<circle cx="158.5" cy="285.4" r="1.85"/>
<circle cx="157.4" cy="286.5" r="1.85"/>
<circle cx="167.5" cy="288" r="1.85"/>
<circle cx="150.8" cy="287" r="1.85"/>
<circle cx="157.3" cy="287.3" r="1.85"/>
<circle cx="151.9" cy="288.5" r="1.85"/>
<circle cx="128.9" cy="246.6" r="1.85"/>
<circle cx="123.9" cy="248.7" r="1.85"/>
<circle cx="122.5" cy="252.2" r="1.85"/>
<circle cx="125.3" cy="253.7" r="1.85"/>
<circle cx="118.2" cy="257.2" r="1.85"/>
<circle cx="123.2" cy="257.2" r="1.85"/>
<circle cx="129.6" cy="259.4" r="1.85"/>
<circle cx="133.9" cy="265" r="1.85"/>
<circle cx="130.3" cy="265.8" r="1.85"/>
<circle cx="136" cy="270" r="1.85"/>
<circle cx="137.4" cy="273.6" r="1.85"/>
<circle cx="140.3" cy="276.4" r="1.85"/>
<circle cx="102.6" cy="273.6" r="1.85"/>
<circle cx="105.4" cy="277.9" r="1.85"/>
<circle cx="145.9" cy="283.5" r="1.85"/>
<circle cx="148.8" cy="284.3" r="1.85"/>
<circle cx="153.1" cy="285.7" r="1.85"/>
<circle cx="157.3" cy="286.4" r="1.85"/>
<circle cx="155.9" cy="289.9" r="1.85"/>
<circle cx="158.7" cy="292.1" r="1.85"/>
<circle cx="163" cy="288.5" r="1.85"/>
<circle cx="167.3" cy="288.5" r="1.85"/>
<circle cx="147.4" cy="292.1" r="1.85"/>
<circle cx="141.7" cy="295.6" r="1.85"/>
<circle cx="140.3" cy="299.9" r="1.85"/>
<circle cx="127.4" cy="268.6" r="1.85"/>
<circle cx="131.7" cy="271.4" r="1.85"/>
</g>
<path d="M102.6 266.5C103.4 268 105.8 272.3 107.5 275.7C109.3 279.2 111.4 284.3 113.2 287.1C115 289.9 116.4 291.8 118.2 292.8C120 293.8 121.6 293.7 123.9 293.1C126.1 292.5 129 290.5 131.7 289.2C134.4 288 137.6 286.5 140.3 285.7C142.9 284.9 144.8 284.8 147.4 284.5C150 284.3 152.6 284.3 155.9 284.3C159.2 284.2 165.4 284.3 167.3 284.3" fill="none" stroke="#f01c1c" stroke-width="1.05"/>
</g>
<clipPath id="c43"><rect x="180.5" y="244.7" width="69.5" height="64.7"/></clipPath>
<g clip-path="url(#c43)">
<path d="M183.9 265.1 L183.7 273.4 L185.5 275.8 L188.2 281.3 L194.7 287.7 L190.7 303.3 L193.8 304.5 L200.3 305.1 L204.3 304.6 L208 298.6 L209.8 295.1 L213.6 293.2 L218.1 291.7 L224.6 290.1 L228.4 291.3 L231 289.6 L233.4 284.8 L234.7 279.9 L233.3 273.1 L233.2 267.5 L231.4 268.1 L223.3 273.5 L220.2 276.6 L213.5 278.3 L205.5 278.3 L202.8 269.1 L202.1 262.4 L200.4 259.8 L199.9 259.8 L199.3 266.3 L195.7 276.1 L188.4 268.8 L186 265.3Z" fill="#000"/>
<g fill="none" stroke="#000" stroke-width="1.1">
<circle cx="213" cy="293.5" r="1.85"/>
<circle cx="186.8" cy="277.3" r="1.85"/>
<circle cx="209.4" cy="294.7" r="1.85"/>
<circle cx="221.6" cy="275.7" r="1.85"/>
<circle cx="216" cy="291.2" r="1.85"/>
<circle cx="223.2" cy="289.3" r="1.85"/>
<circle cx="209.5" cy="278.2" r="1.85"/>
<circle cx="207.4" cy="300.1" r="1.85"/>
<circle cx="208.3" cy="297.6" r="1.85"/>
<circle cx="229" cy="291.1" r="1.85"/>
<circle cx="204.3" cy="304.1" r="1.85"/>
<circle cx="193.1" cy="299" r="1.85"/>
<circle cx="205.3" cy="276.9" r="1.85"/>
<circle cx="205.3" cy="301.3" r="1.85"/>
<circle cx="209.3" cy="294.9" r="1.85"/>
<circle cx="210.4" cy="294.1" r="1.85"/>
<circle cx="220.5" cy="291.5" r="1.85"/>
<circle cx="210.4" cy="278" r="1.85"/>
<circle cx="230.8" cy="288.2" r="1.85"/>
<circle cx="186.5" cy="276" r="1.85"/>
<circle cx="226.3" cy="272.7" r="1.85"/>
<circle cx="204.3" cy="274.6" r="1.85"/>
<circle cx="227.6" cy="290.8" r="1.85"/>
<circle cx="194" cy="294.1" r="1.85"/>
<circle cx="232.5" cy="274.1" r="1.85"/>
<circle cx="200.4" cy="263.4" r="1.85"/>
<circle cx="202.3" cy="262.9" r="1.85"/>
<circle cx="198.9" cy="270.1" r="1.85"/>
<circle cx="215.2" cy="292.2" r="1.85"/>
<circle cx="192.4" cy="273.1" r="1.85"/>
<circle cx="193.1" cy="297.5" r="1.85"/>
<circle cx="194.1" cy="290.4" r="1.85"/>
<circle cx="202" cy="304.5" r="1.85"/>
<circle cx="227.1" cy="271.9" r="1.85"/>
<circle cx="184" cy="274.4" r="1.85"/>
<circle cx="233.3" cy="269.1" r="1.85"/>
<circle cx="209" cy="294.5" r="1.85"/>
<circle cx="192.3" cy="296.3" r="1.85"/>
<circle cx="234.5" cy="280.8" r="1.85"/>
<circle cx="227.6" cy="271.8" r="1.85"/>
<circle cx="197.4" cy="272.3" r="1.85"/>
<circle cx="184.6" cy="269.1" r="1.85"/>
<circle cx="194" cy="275.2" r="1.85"/>
<circle cx="200" cy="305.4" r="1.85"/>
<circle cx="224.1" cy="273.2" r="1.85"/>
<circle cx="233.5" cy="284.8" r="1.85"/>
<circle cx="194.4" cy="290.1" r="1.85"/>
<circle cx="217.9" cy="290.5" r="1.85"/>
<circle cx="220.4" cy="276" r="1.85"/>
<circle cx="184.3" cy="266.9" r="1.85"/>
<circle cx="193.5" cy="291.5" r="1.85"/>
<circle cx="232.9" cy="270.5" r="1.85"/>
<circle cx="232.5" cy="268.2" r="1.85"/>
<circle cx="229.3" cy="269.5" r="1.85"/>
<circle cx="233.9" cy="282.3" r="1.85"/>
<circle cx="234.5" cy="277.9" r="1.85"/>
<circle cx="220.6" cy="277.4" r="1.85"/>
<circle cx="201.8" cy="264" r="1.85"/>
<circle cx="233.4" cy="280.6" r="1.85"/>
<circle cx="189.3" cy="281.5" r="1.85"/>
<circle cx="231.3" cy="268" r="1.85"/>
<circle cx="205.6" cy="301" r="1.85"/>
<circle cx="209.2" cy="295.3" r="1.85"/>
<circle cx="231.9" cy="287.6" r="1.85"/>
<circle cx="201.9" cy="267.7" r="1.85"/>
<circle cx="195.7" cy="273.4" r="1.85"/>
<circle cx="189.5" cy="271.2" r="1.85"/>
<circle cx="211.8" cy="293.9" r="1.85"/>
<circle cx="193.5" cy="274.3" r="1.85"/>
<circle cx="184.5" cy="269.7" r="1.85"/>
<circle cx="234.3" cy="276.9" r="1.85"/>
<circle cx="211.4" cy="293.1" r="1.85"/>
<circle cx="211.6" cy="279.5" r="1.85"/>
<circle cx="195.8" cy="304.1" r="1.85"/>
<circle cx="196.1" cy="304.7" r="1.85"/>
<circle cx="199.6" cy="267.4" r="1.85"/>
<circle cx="233.8" cy="283.4" r="1.85"/>
<circle cx="193.2" cy="298.6" r="1.85"/>
<circle cx="184.7" cy="268.6" r="1.85"/>
<circle cx="230.3" cy="268.4" r="1.85"/>
<circle cx="213.8" cy="292.2" r="1.85"/>
<circle cx="206.3" cy="279.3" r="1.85"/>
<circle cx="196.5" cy="304.8" r="1.85"/>
<circle cx="184.7" cy="269.5" r="1.85"/>
<circle cx="203.1" cy="304.8" r="1.85"/>
<circle cx="192.1" cy="296.6" r="1.85"/>
<circle cx="215" cy="292.6" r="1.85"/>
<circle cx="210.6" cy="278.4" r="1.85"/>
<circle cx="191.6" cy="299" r="1.85"/>
<circle cx="204.8" cy="303.8" r="1.85"/>
<circle cx="194" cy="293.2" r="1.85"/>
<circle cx="189" cy="282.6" r="1.85"/>
<circle cx="209" cy="295.8" r="1.85"/>
<circle cx="230.4" cy="268.5" r="1.85"/>
<circle cx="233.8" cy="275" r="1.85"/>
<circle cx="191.2" cy="271.2" r="1.85"/>
<circle cx="200" cy="262.4" r="1.85"/>
<circle cx="184.4" cy="266.3" r="1.85"/>
<circle cx="184.6" cy="268.8" r="1.85"/>
<circle cx="194.1" cy="275.7" r="1.85"/>
<circle cx="196.7" cy="276.4" r="1.85"/>
<circle cx="223.9" cy="274.1" r="1.85"/>
<circle cx="184.9" cy="268.1" r="1.85"/>
<circle cx="218.9" cy="291.1" r="1.85"/>
<circle cx="191.3" cy="284.5" r="1.85"/>
<circle cx="230.2" cy="290.3" r="1.85"/>
<circle cx="233.6" cy="270.1" r="1.85"/>
<circle cx="232.7" cy="273.7" r="1.85"/>
<circle cx="202.1" cy="266.4" r="1.85"/>
<circle cx="200.7" cy="304.1" r="1.85"/>
<circle cx="208.9" cy="279.5" r="1.85"/>
<circle cx="196.5" cy="275.8" r="1.85"/>
<circle cx="201.5" cy="264.9" r="1.85"/>
<circle cx="203.1" cy="271.2" r="1.85"/>
<circle cx="189.7" cy="271.9" r="1.85"/>
<circle cx="200.1" cy="261.1" r="1.85"/>
<circle cx="232.9" cy="267.8" r="1.85"/>
<circle cx="193.9" cy="290.3" r="1.85"/>
<circle cx="230.9" cy="268.4" r="1.85"/>
<circle cx="183.4" cy="265.2" r="1.85"/>
<circle cx="183.7" cy="267.5" r="1.85"/>
<circle cx="184" cy="270.7" r="1.85"/>
<circle cx="182.8" cy="273.1" r="1.85"/>
<circle cx="183.8" cy="274.6" r="1.85"/>
<circle cx="186.6" cy="278.1" r="1.85"/>
<circle cx="186.7" cy="278.7" r="1.85"/>
<circle cx="189.1" cy="283.5" r="1.85"/>
<circle cx="189.8" cy="283.1" r="1.85"/>
<circle cx="192.6" cy="285.9" r="1.85"/>
<circle cx="193.1" cy="287.3" r="1.85"/>
<circle cx="192.8" cy="292" r="1.85"/>
<circle cx="192.1" cy="292.7" r="1.85"/>
<circle cx="191.2" cy="296.5" r="1.85"/>
<circle cx="191.5" cy="298.4" r="1.85"/>
<circle cx="191.7" cy="300.7" r="1.85"/>
<circle cx="190" cy="303.3" r="1.85"/>
<circle cx="191.3" cy="304.8" r="1.85"/>
<circle cx="196.7" cy="304.4" r="1.85"/>
<circle cx="196.1" cy="304.4" r="1.85"/>
<circle cx="200.9" cy="306" r="1.85"/>
<circle cx="202.1" cy="305.4" r="1.85"/>
<circle cx="203.8" cy="304.1" r="1.85"/>
<circle cx="205.2" cy="303.1" r="1.85"/>
<circle cx="208.1" cy="299" r="1.85"/>
<circle cx="209.8" cy="297.2" r="1.85"/>
<circle cx="211.9" cy="294.5" r="1.85"/>
<circle cx="213.8" cy="293.6" r="1.85"/>
<circle cx="216" cy="293.2" r="1.85"/>
<circle cx="216.9" cy="292.8" r="1.85"/>
<circle cx="220.7" cy="291.5" r="1.85"/>
<circle cx="223.5" cy="290.5" r="1.85"/>
<circle cx="226.1" cy="291.4" r="1.85"/>
<circle cx="227.3" cy="291.7" r="1.85"/>
<circle cx="230" cy="290.9" r="1.85"/>
<circle cx="231.3" cy="287.9" r="1.85"/>
<circle cx="232.8" cy="286.4" r="1.85"/>
<circle cx="233.6" cy="283.3" r="1.85"/>
<circle cx="234.3" cy="280.3" r="1.85"/>
<circle cx="235.4" cy="279.1" r="1.85"/>
<circle cx="233.5" cy="275.3" r="1.85"/>
<circle cx="233.5" cy="273.4" r="1.85"/>
<circle cx="233.7" cy="272.3" r="1.85"/>
<circle cx="234.7" cy="269" r="1.85"/>
<circle cx="232.3" cy="266.8" r="1.85"/>
<circle cx="230.5" cy="268.2" r="1.85"/>
<circle cx="226.6" cy="269.3" r="1.85"/>
<circle cx="224.9" cy="272.2" r="1.85"/>
<circle cx="222.6" cy="272.6" r="1.85"/>
<circle cx="220.9" cy="275" r="1.85"/>
<circle cx="220.4" cy="275.9" r="1.85"/>
<circle cx="216.9" cy="277.8" r="1.85"/>
<circle cx="213.5" cy="277.4" r="1.85"/>
<circle cx="211.8" cy="277.7" r="1.85"/>
<circle cx="207.6" cy="277.6" r="1.85"/>
<circle cx="206.8" cy="277.4" r="1.85"/>
<circle cx="204.9" cy="274.7" r="1.85"/>
<circle cx="203.6" cy="273" r="1.85"/>
<circle cx="202.8" cy="270.6" r="1.85"/>
<circle cx="202.7" cy="268.5" r="1.85"/>
<circle cx="202.9" cy="267.1" r="1.85"/>
<circle cx="203.3" cy="262.7" r="1.85"/>
<circle cx="201.2" cy="260.8" r="1.85"/>
<circle cx="199.9" cy="260.4" r="1.85"/>
<circle cx="199.6" cy="262.3" r="1.85"/>
<circle cx="198.4" cy="265.3" r="1.85"/>
<circle cx="199.7" cy="266.9" r="1.85"/>
<circle cx="198" cy="269.1" r="1.85"/>
<circle cx="197.2" cy="273.1" r="1.85"/>
<circle cx="194.2" cy="273.6" r="1.85"/>
<circle cx="191.7" cy="271.4" r="1.85"/>
<circle cx="191.1" cy="270.7" r="1.85"/>
<circle cx="189.3" cy="268.4" r="1.85"/>
<circle cx="188" cy="267.6" r="1.85"/>
<circle cx="186.7" cy="265.4" r="1.85"/>
<circle cx="203" cy="248.2" r="1.85"/>
<circle cx="200.2" cy="257.5" r="1.85"/>
<circle cx="199.1" cy="248.5" r="1.85"/>
<circle cx="241.3" cy="263.2" r="1.85"/>
<circle cx="238.2" cy="262.9" r="1.85"/>
<circle cx="237.5" cy="261.4" r="1.85"/>
<circle cx="240.3" cy="267.8" r="1.85"/>
<circle cx="236.5" cy="263.5" r="1.85"/>
<circle cx="240.2" cy="260.6" r="1.85"/>
<circle cx="238.7" cy="259.9" r="1.85"/>
<circle cx="241.1" cy="262.3" r="1.85"/>
<circle cx="199.6" cy="248" r="1.85"/>
<circle cx="203.9" cy="246.6" r="1.85"/>
<circle cx="200.3" cy="251.5" r="1.85"/>
<circle cx="202.5" cy="253.7" r="1.85"/>
<circle cx="198.9" cy="257.2" r="1.85"/>
<circle cx="203.2" cy="260.8" r="1.85"/>
<circle cx="236.6" cy="260.1" r="1.85"/>
<circle cx="237.3" cy="264.3" r="1.85"/>
<circle cx="238.7" cy="275" r="1.85"/>
<circle cx="243" cy="273.6" r="1.85"/>
<circle cx="247.3" cy="273.6" r="1.85"/>
<circle cx="242.3" cy="278.6" r="1.85"/>
<circle cx="233.8" cy="280" r="1.85"/>
<circle cx="233.1" cy="282.8" r="1.85"/>
<circle cx="224.5" cy="292.1" r="1.85"/>
<circle cx="220.3" cy="294.2" r="1.85"/>
<circle cx="215.3" cy="273.6" r="1.85"/>
<circle cx="221.7" cy="271.4" r="1.85"/>
<circle cx="186.8" cy="287.1" r="1.85"/>
<circle cx="183.3" cy="262.2" r="1.85"/>
<circle cx="187.5" cy="262.9" r="1.85"/>
</g>
<path d="M182.6 272.9C183.4 274.1 185.9 277.4 187.5 280C189.2 282.6 191.3 286.4 192.5 288.5C193.7 290.7 193.6 292.3 194.6 292.8C195.7 293.3 197.1 290.8 198.9 291.4C200.7 292 203.4 296.6 205.3 296.3C207.2 296.1 208.5 291.7 210.3 289.9C212.1 288.2 213.4 287.3 216 285.7C218.6 284 222.6 282.1 225.9 280C229.3 277.9 232.3 275.4 235.9 272.9C239.5 270.4 245.4 266.4 247.3 265" fill="none" stroke="#f01c1c" stroke-width="1.05"/>
</g>
<clipPath id="c51"><rect x="21.5" y="319.2" width="68.5" height="64.7"/></clipPath>
<g clip-path="url(#c51)">
<path d="M53.2 379.7 L54.7 376.4 L59.3 370.3 L63 366.6 L63.6 360.7 L62.8 354.3 L65.8 349.9 L65.8 347.6 L60.9 343.5 L60.1 335.6 L59.3 332.7 L58 340.3 L54.6 345.5 L50.9 348 L50.4 351.7 L52.7 356.2 L51.1 360.8 L52.5 367.7 L51.8 374.7Z" fill="#000"/>
<g fill="none" stroke="#000" stroke-width="1.1">
<circle cx="63.5" cy="352.8" r="1.85"/>
<circle cx="63.6" cy="361.2" r="1.85"/>
<circle cx="53.8" cy="376.4" r="1.85"/>
<circle cx="50.8" cy="351.6" r="1.85"/>
<circle cx="51.7" cy="364.7" r="1.85"/>
<circle cx="52.6" cy="373.7" r="1.85"/>
<circle cx="55.2" cy="375.1" r="1.85"/>
<circle cx="51.9" cy="373.5" r="1.85"/>
<circle cx="57" cy="372.4" r="1.85"/>
<circle cx="62.5" cy="366.6" r="1.85"/>
<circle cx="53.4" cy="377.1" r="1.85"/>
<circle cx="58.6" cy="341.3" r="1.85"/>
<circle cx="52.5" cy="355" r="1.85"/>
<circle cx="52.5" cy="356.8" r="1.85"/>
<circle cx="52.3" cy="374.9" r="1.85"/>
<circle cx="62" cy="353.8" r="1.85"/>
<circle cx="55.9" cy="345.1" r="1.85"/>
<circle cx="51.7" cy="359.1" r="1.85"/>
<circle cx="51.7" cy="374" r="1.85"/>
<circle cx="51" cy="352.5" r="1.85"/>
<circle cx="54.1" cy="376" r="1.85"/>
<circle cx="51.2" cy="352.5" r="1.85"/>
<circle cx="56.3" cy="342.3" r="1.85"/>
<circle cx="65.4" cy="350.1" r="1.85"/>
<circle cx="52.5" cy="372.2" r="1.85"/>
<circle cx="57.3" cy="341" r="1.85"/>
<circle cx="63.1" cy="344.9" r="1.85"/>
<circle cx="56.5" cy="373.7" r="1.85"/>
<circle cx="51.5" cy="375" r="1.85"/>
<circle cx="51.7" cy="373.6" r="1.85"/>
<circle cx="51.6" cy="362.5" r="1.85"/>
<circle cx="64.9" cy="348.8" r="1.85"/>
<circle cx="52.1" cy="353.1" r="1.85"/>
<circle cx="63.1" cy="354.5" r="1.85"/>
<circle cx="59.2" cy="370.1" r="1.85"/>
<circle cx="59.7" cy="333.6" r="1.85"/>
<circle cx="52.8" cy="357.6" r="1.85"/>
<circle cx="62" cy="365.3" r="1.85"/>
<circle cx="59.7" cy="342.2" r="1.85"/>
<circle cx="51.7" cy="363.6" r="1.85"/>
<circle cx="60.4" cy="369.4" r="1.85"/>
<circle cx="52.4" cy="360.3" r="1.85"/>
<circle cx="51.8" cy="352.8" r="1.85"/>
<circle cx="51.8" cy="357.7" r="1.85"/>
<circle cx="52.8" cy="354.4" r="1.85"/>
<circle cx="52" cy="358.1" r="1.85"/>
<circle cx="54.8" cy="344.9" r="1.85"/>
<circle cx="60.2" cy="369.1" r="1.85"/>
<circle cx="56.3" cy="344.5" r="1.85"/>
<circle cx="62.6" cy="352.6" r="1.85"/>
<circle cx="53.8" cy="356.2" r="1.85"/>
<circle cx="62.4" cy="345.8" r="1.85"/>
<circle cx="63.1" cy="354.5" r="1.85"/>
<circle cx="58" cy="370.2" r="1.85"/>
<circle cx="59.3" cy="338.1" r="1.85"/>
<circle cx="60.3" cy="334.9" r="1.85"/>
<circle cx="61" cy="368.6" r="1.85"/>
<circle cx="53.2" cy="366.8" r="1.85"/>
<circle cx="62.4" cy="354.2" r="1.85"/>
<circle cx="52.5" cy="370.1" r="1.85"/>
<circle cx="54.1" cy="379.7" r="1.85"/>
<circle cx="54.1" cy="377" r="1.85"/>
<circle cx="56.4" cy="374.7" r="1.85"/>
<circle cx="57.9" cy="372.2" r="1.85"/>
<circle cx="58.6" cy="370.8" r="1.85"/>
<circle cx="61" cy="369" r="1.85"/>
<circle cx="63.1" cy="367" r="1.85"/>
<circle cx="64.5" cy="364.9" r="1.85"/>
<circle cx="63.7" cy="360.8" r="1.85"/>
<circle cx="64.6" cy="359.2" r="1.85"/>
<circle cx="64.3" cy="356.3" r="1.85"/>
<circle cx="63.4" cy="353.4" r="1.85"/>
<circle cx="66" cy="350.9" r="1.85"/>
<circle cx="66.1" cy="349.5" r="1.85"/>
<circle cx="65" cy="346.4" r="1.85"/>
<circle cx="64.4" cy="346.1" r="1.85"/>
<circle cx="62.8" cy="344.2" r="1.85"/>
<circle cx="61.9" cy="341.6" r="1.85"/>
<circle cx="60.5" cy="339.1" r="1.85"/>
<circle cx="60.5" cy="335.8" r="1.85"/>
<circle cx="59.3" cy="334.4" r="1.85"/>
<circle cx="59.7" cy="333" r="1.85"/>
<circle cx="57.6" cy="334.2" r="1.85"/>
<circle cx="57.6" cy="338.3" r="1.85"/>
<circle cx="58" cy="339.6" r="1.85"/>
<circle cx="54.5" cy="344.3" r="1.85"/>
<circle cx="54.4" cy="344.9" r="1.85"/>
<circle cx="53.5" cy="346.3" r="1.85"/>
<circle cx="51.2" cy="348.6" r="1.85"/>
<circle cx="49.3" cy="351" r="1.85"/>
<circle cx="50.6" cy="352.4" r="1.85"/>
<circle cx="51.5" cy="356" r="1.85"/>
<circle cx="51.3" cy="358.5" r="1.85"/>
<circle cx="51.4" cy="360.4" r="1.85"/>
<circle cx="52" cy="363.6" r="1.85"/>
<circle cx="52.7" cy="366" r="1.85"/>
<circle cx="52.7" cy="368" r="1.85"/>
<circle cx="51.3" cy="372.3" r="1.85"/>
<circle cx="52.4" cy="374.3" r="1.85"/>
<circle cx="50.8" cy="376.4" r="1.85"/>
<circle cx="52" cy="379.8" r="1.85"/>
<circle cx="58.7" cy="325.4" r="1.85"/>
<circle cx="57.6" cy="327.7" r="1.85"/>
<circle cx="59.3" cy="321.1" r="1.85"/>
<circle cx="61.6" cy="322.6" r="1.85"/>
<circle cx="57.1" cy="327.6" r="1.85"/>
<circle cx="58.7" cy="328.6" r="1.85"/>
<circle cx="58.7" cy="325.7" r="1.85"/>
<circle cx="60.4" cy="329.4" r="1.85"/>
<circle cx="57.7" cy="320.8" r="1.85"/>
<circle cx="60.5" cy="321.6" r="1.85"/>
<circle cx="58.4" cy="324.4" r="1.85"/>
<circle cx="59.1" cy="328" r="1.85"/>
<circle cx="22.8" cy="345.7" r="1.85"/>
<circle cx="28.5" cy="350.7" r="1.85"/>
<circle cx="33.5" cy="347.9" r="1.85"/>
<circle cx="37.8" cy="343.6" r="1.85"/>
<circle cx="39.9" cy="346.4" r="1.85"/>
<circle cx="44.2" cy="348.6" r="1.85"/>
<circle cx="42" cy="356.4" r="1.85"/>
<circle cx="47" cy="355.7" r="1.85"/>
<circle cx="66.9" cy="337.9" r="1.85"/>
<circle cx="69.1" cy="340.8" r="1.85"/>
<circle cx="70.5" cy="352.1" r="1.85"/>
<circle cx="75.5" cy="354.3" r="1.85"/>
<circle cx="82.6" cy="352.1" r="1.85"/>
<circle cx="84" cy="348.6" r="1.85"/>
<circle cx="88.3" cy="348.6" r="1.85"/>
<circle cx="62.7" cy="370.6" r="1.85"/>
<circle cx="61.3" cy="377" r="1.85"/>
<circle cx="59.8" cy="373.5" r="1.85"/>
</g>
<path d="M22.8 353.6C23.8 354 26.6 355 28.5 356.4C30.4 357.8 32.3 359.5 34.2 362.1C36.1 364.7 38.3 369 39.9 372.1C41.6 375.1 42.8 380.4 44.2 380.6C45.6 380.8 47 376.3 48.4 373.5C49.9 370.6 51.2 367.1 52.7 363.5C54.3 360 56.3 353.8 57.7 352.1C59.1 350.5 59.7 354.2 61.3 353.6C62.8 353 64.8 349.4 66.9 348.6C69.1 347.8 70.7 348.5 74.1 348.6C77.4 348.7 84.7 349.2 86.9 349.3" fill="none" stroke="#f01c1c" stroke-width="1.05"/>
</g>
<clipPath id="c52"><rect x="100.5" y="319.2" width="69.5" height="64.7"/></clipPath>
<g clip-path="url(#c52)">
<path d="M123.1 326.2 L122.6 328.1 L112.4 335.4 L110 340.2 L107.3 350.9 L108 356 L109.3 362.5 L112 366.9 L119.3 368.8 L128.2 369.5 L134.7 372.8 L139.1 377.2 L136.5 373.2 L134.5 367.4 L138.2 361.9 L143.1 357 L142.1 353 L139.7 348.2 L136.3 346 L125.4 342.9 L123.4 336.9Z" fill="#000"/>
<g fill="none" stroke="#000" stroke-width="1.1">
<circle cx="108.5" cy="356.9" r="1.85"/>
<circle cx="110.6" cy="338.4" r="1.85"/>
<circle cx="129.3" cy="345.1" r="1.85"/>
<circle cx="133" cy="371.2" r="1.85"/>
<circle cx="132.8" cy="371.3" r="1.85"/>
<circle cx="132" cy="370.9" r="1.85"/>
<circle cx="107.6" cy="356.1" r="1.85"/>
<circle cx="109.5" cy="360.4" r="1.85"/>
<circle cx="122.7" cy="335.6" r="1.85"/>
<circle cx="132.3" cy="371.7" r="1.85"/>
<circle cx="107.6" cy="353.1" r="1.85"/>
<circle cx="111.5" cy="366.4" r="1.85"/>
<circle cx="136.5" cy="364.4" r="1.85"/>
<circle cx="108.8" cy="344" r="1.85"/>
<circle cx="141.8" cy="356" r="1.85"/>
<circle cx="129.4" cy="369.9" r="1.85"/>
<circle cx="117.7" cy="331.7" r="1.85"/>
<circle cx="123.2" cy="326.4" r="1.85"/>
<circle cx="121.8" cy="368.5" r="1.85"/>
<circle cx="138.8" cy="376.9" r="1.85"/>
<circle cx="121.7" cy="329.9" r="1.85"/>
<circle cx="130" cy="370.4" r="1.85"/>
<circle cx="136" cy="374.7" r="1.85"/>
<circle cx="124" cy="369.5" r="1.85"/>
<circle cx="110" cy="360.6" r="1.85"/>
<circle cx="116.3" cy="367.8" r="1.85"/>
<circle cx="139.8" cy="349.1" r="1.85"/>
<circle cx="135.9" cy="373.8" r="1.85"/>
<circle cx="123.1" cy="327.4" r="1.85"/>
<circle cx="123.3" cy="339.1" r="1.85"/>
<circle cx="134.2" cy="367" r="1.85"/>
<circle cx="108.1" cy="357.5" r="1.85"/>
<circle cx="135.4" cy="372.3" r="1.85"/>
<circle cx="130.8" cy="370.1" r="1.85"/>
<circle cx="108.4" cy="356.1" r="1.85"/>
<circle cx="136" cy="373.6" r="1.85"/>
<circle cx="134.6" cy="372.5" r="1.85"/>
<circle cx="108.9" cy="346" r="1.85"/>
<circle cx="123.4" cy="330.1" r="1.85"/>
<circle cx="114.7" cy="333.9" r="1.85"/>
<circle cx="109.4" cy="358.3" r="1.85"/>
<circle cx="119.1" cy="367.7" r="1.85"/>
<circle cx="141.4" cy="353.8" r="1.85"/>
<circle cx="123.1" cy="338.2" r="1.85"/>
<circle cx="107.9" cy="350.5" r="1.85"/>
<circle cx="120.4" cy="329.9" r="1.85"/>
<circle cx="108.3" cy="348.4" r="1.85"/>
<circle cx="108.1" cy="352.1" r="1.85"/>
<circle cx="135.8" cy="365.5" r="1.85"/>
<circle cx="109.5" cy="341.3" r="1.85"/>
<circle cx="133.9" cy="367.4" r="1.85"/>
<circle cx="119" cy="368.7" r="1.85"/>
<circle cx="109.8" cy="360.2" r="1.85"/>
<circle cx="107.8" cy="356.8" r="1.85"/>
<circle cx="108.4" cy="345.1" r="1.85"/>
<circle cx="113.9" cy="334.3" r="1.85"/>
<circle cx="107.1" cy="351.3" r="1.85"/>
<circle cx="123" cy="328.7" r="1.85"/>
<circle cx="107.9" cy="354.1" r="1.85"/>
<circle cx="142.1" cy="356.3" r="1.85"/>
<circle cx="123.8" cy="337.6" r="1.85"/>
<circle cx="122.5" cy="328.5" r="1.85"/>
<circle cx="137.6" cy="348.1" r="1.85"/>
<circle cx="107.5" cy="352.9" r="1.85"/>
<circle cx="138.9" cy="360" r="1.85"/>
<circle cx="139.3" cy="359.7" r="1.85"/>
<circle cx="121.9" cy="329.4" r="1.85"/>
<circle cx="136" cy="372.1" r="1.85"/>
<circle cx="121.3" cy="367.8" r="1.85"/>
<circle cx="115.2" cy="334.7" r="1.85"/>
<circle cx="132.6" cy="371.9" r="1.85"/>
<circle cx="109.8" cy="360.9" r="1.85"/>
<circle cx="136.3" cy="372.1" r="1.85"/>
<circle cx="108.3" cy="349.2" r="1.85"/>
<circle cx="119.8" cy="331.2" r="1.85"/>
<circle cx="137.3" cy="362.4" r="1.85"/>
<circle cx="134" cy="346.2" r="1.85"/>
<circle cx="119.1" cy="332.1" r="1.85"/>
<circle cx="138.7" cy="360.2" r="1.85"/>
<circle cx="123.3" cy="326.7" r="1.85"/>
<circle cx="125.2" cy="343.5" r="1.85"/>
<circle cx="129" cy="370" r="1.85"/>
<circle cx="122.8" cy="323.2" r="1.85"/>
<circle cx="122.4" cy="327" r="1.85"/>
<circle cx="119.8" cy="329.6" r="1.85"/>
<circle cx="119" cy="329.4" r="1.85"/>
<circle cx="117.6" cy="332.2" r="1.85"/>
<circle cx="115.3" cy="332.8" r="1.85"/>
<circle cx="112.9" cy="334.1" r="1.85"/>
<circle cx="110.9" cy="336.5" r="1.85"/>
<circle cx="109.6" cy="339.4" r="1.85"/>
<circle cx="109.3" cy="341.5" r="1.85"/>
<circle cx="109.2" cy="345.2" r="1.85"/>
<circle cx="107.7" cy="346.8" r="1.85"/>
<circle cx="106.5" cy="349.4" r="1.85"/>
<circle cx="106.3" cy="352.7" r="1.85"/>
<circle cx="106.5" cy="354.6" r="1.85"/>
<circle cx="108.1" cy="357.5" r="1.85"/>
<circle cx="108.5" cy="359.6" r="1.85"/>
<circle cx="109.8" cy="362.2" r="1.85"/>
<circle cx="109.3" cy="365.7" r="1.85"/>
<circle cx="111.1" cy="366.1" r="1.85"/>
<circle cx="113.6" cy="367.2" r="1.85"/>
<circle cx="117.2" cy="369.4" r="1.85"/>
<circle cx="118.4" cy="368.7" r="1.85"/>
<circle cx="121.8" cy="369.9" r="1.85"/>
<circle cx="124.5" cy="369.5" r="1.85"/>
<circle cx="127.3" cy="370.3" r="1.85"/>
<circle cx="128.6" cy="370.4" r="1.85"/>
<circle cx="132.3" cy="371.2" r="1.85"/>
<circle cx="133.9" cy="372.5" r="1.85"/>
<circle cx="137.4" cy="376.1" r="1.85"/>
<circle cx="139.1" cy="377.6" r="1.85"/>
<circle cx="139.8" cy="378.4" r="1.85"/>
<circle cx="138.4" cy="377.4" r="1.85"/>
<circle cx="136.8" cy="374.1" r="1.85"/>
<circle cx="136" cy="371.2" r="1.85"/>
<circle cx="136.2" cy="368.3" r="1.85"/>
<circle cx="136.4" cy="367.3" r="1.85"/>
<circle cx="136.7" cy="364.5" r="1.85"/>
<circle cx="138.9" cy="363.6" r="1.85"/>
<circle cx="139.8" cy="358.9" r="1.85"/>
<circle cx="141.7" cy="358" r="1.85"/>
<circle cx="143.1" cy="356.9" r="1.85"/>
<circle cx="142.8" cy="353.9" r="1.85"/>
<circle cx="142.2" cy="350.2" r="1.85"/>
<circle cx="141.7" cy="349.6" r="1.85"/>
<circle cx="139.3" cy="347.3" r="1.85"/>
<circle cx="135.5" cy="345.7" r="1.85"/>
<circle cx="132.8" cy="344.3" r="1.85"/>
<circle cx="132.2" cy="344.8" r="1.85"/>
<circle cx="128.5" cy="344.4" r="1.85"/>
<circle cx="127.9" cy="342.2" r="1.85"/>
<circle cx="125.7" cy="341.4" r="1.85"/>
<circle cx="123.3" cy="337.2" r="1.85"/>
<circle cx="123.7" cy="336" r="1.85"/>
<circle cx="123.7" cy="334.4" r="1.85"/>
<circle cx="123.6" cy="330" r="1.85"/>
<circle cx="124" cy="328.3" r="1.85"/>
<circle cx="122.7" cy="324.6" r="1.85"/>
<circle cx="165.9" cy="368" r="1.85"/>
<circle cx="151.9" cy="355.3" r="1.85"/>
<circle cx="151.2" cy="357.6" r="1.85"/>
<circle cx="145.5" cy="348" r="1.85"/>
<circle cx="147" cy="357.1" r="1.85"/>
<circle cx="145.6" cy="350.2" r="1.85"/>
<circle cx="157.4" cy="360.9" r="1.85"/>
<circle cx="149.2" cy="364.5" r="1.85"/>
<circle cx="156.1" cy="351.8" r="1.85"/>
<circle cx="165" cy="361" r="1.85"/>
<circle cx="145.5" cy="359.2" r="1.85"/>
<circle cx="165.6" cy="356.5" r="1.85"/>
<circle cx="153.6" cy="368.8" r="1.85"/>
<circle cx="166.3" cy="358.2" r="1.85"/>
<circle cx="148.4" cy="361.9" r="1.85"/>
<circle cx="154.6" cy="352.1" r="1.85"/>
<circle cx="165.2" cy="357" r="1.85"/>
<circle cx="163.8" cy="364.3" r="1.85"/>
<circle cx="151.8" cy="367.3" r="1.85"/>
<circle cx="164.4" cy="355.2" r="1.85"/>
<circle cx="166.4" cy="355.6" r="1.85"/>
<circle cx="147.5" cy="369.2" r="1.85"/>
<circle cx="151.5" cy="369.8" r="1.85"/>
<circle cx="153.9" cy="362" r="1.85"/>
<circle cx="156.2" cy="365.3" r="1.85"/>
<circle cx="147.1" cy="348.3" r="1.85"/>
<circle cx="153" cy="353.2" r="1.85"/>
<circle cx="146.6" cy="357.7" r="1.85"/>
<circle cx="148.3" cy="351.9" r="1.85"/>
<circle cx="153.9" cy="357.2" r="1.85"/>
<circle cx="168" cy="357.3" r="1.85"/>
<circle cx="161" cy="360" r="1.85"/>
<circle cx="157.7" cy="371" r="1.85"/>
<circle cx="149.7" cy="351" r="1.85"/>
<circle cx="165.8" cy="360.9" r="1.85"/>
<circle cx="161.8" cy="354.3" r="1.85"/>
<circle cx="154" cy="351.9" r="1.85"/>
<circle cx="157.9" cy="366.5" r="1.85"/>
<circle cx="156.8" cy="368.4" r="1.85"/>
<circle cx="128.9" cy="323.7" r="1.85"/>
<circle cx="122.5" cy="328.7" r="1.85"/>
<circle cx="139.5" cy="337.2" r="1.85"/>
<circle cx="132.4" cy="340.8" r="1.85"/>
<circle cx="135.3" cy="343.6" r="1.85"/>
<circle cx="143.1" cy="342.9" r="1.85"/>
<circle cx="146.7" cy="348.6" r="1.85"/>
<circle cx="150.9" cy="351.4" r="1.85"/>
<circle cx="147.4" cy="352.1" r="1.85"/>
<circle cx="152.3" cy="355.7" r="1.85"/>
<circle cx="155.2" cy="355" r="1.85"/>
<circle cx="157.3" cy="356.4" r="1.85"/>
<circle cx="161.6" cy="356.4" r="1.85"/>
<circle cx="163" cy="355.7" r="1.85"/>
<circle cx="165.9" cy="359.3" r="1.85"/>
<circle cx="165.9" cy="364.9" r="1.85"/>
<circle cx="161.6" cy="366.4" r="1.85"/>
<circle cx="157.3" cy="365.7" r="1.85"/>
<circle cx="153.1" cy="367.1" r="1.85"/>
<circle cx="153.8" cy="370.6" r="1.85"/>
<circle cx="148.8" cy="367.1" r="1.85"/>
<circle cx="145.9" cy="363.5" r="1.85"/>
<circle cx="113.2" cy="372.8" r="1.85"/>
<circle cx="115.4" cy="377" r="1.85"/>
<circle cx="124.6" cy="372.1" r="1.85"/>
<circle cx="103.3" cy="357.8" r="1.85"/>
<circle cx="104" cy="352.9" r="1.85"/>
<circle cx="123.9" cy="320.8" r="1.85"/>
</g>
<path d="M102.6 347.2C103.5 347.6 106.3 349 108.2 350C110.1 351 111.9 352.7 113.9 353.3C116 353.9 118 353.1 120.3 353.6C122.7 354 125.8 355.6 128.2 356.1C130.5 356.6 132.3 356.2 134.6 356.4C136.8 356.6 139.1 357.1 141.7 357.5C144.3 358 147.4 358.6 150.2 359C153.1 359.4 155.9 359.4 158.7 360C161.6 360.5 165.9 361.7 167.3 362.1" fill="none" stroke="#f01c1c" stroke-width="1.05"/>
</g>
<clipPath id="c53"><rect x="180.5" y="319.2" width="69.5" height="64.7"/></clipPath>
<g clip-path="url(#c53)">
<path d="M200.1 326.7 L200.1 329.8 L198.6 334.4 L196.7 341.9 L189.3 341.9 L185.4 342.9 L184.5 346.6 L185.1 351.2 L192.8 363.9 L193.9 368.5 L197.7 369.4 L207.2 368.6 L214.9 378.5 L216.2 379.2 L213.8 376.3 L208.5 365.7 L218 369.5 L231 370.8 L233.6 369 L234.7 364.6 L234.7 358.1 L233.5 351.7 L231.1 348.3 L226 344.4 L221.1 341.9 L216.8 341.9 L208.2 347.7 L205.7 340.1 L204.4 334.9 L200.7 330.5Z" fill="#000"/>
<g fill="none" stroke="#000" stroke-width="1.1">
<circle cx="196.3" cy="367.9" r="1.85"/>
<circle cx="203" cy="334.5" r="1.85"/>
<circle cx="196.6" cy="340.8" r="1.85"/>
<circle cx="212.5" cy="374.6" r="1.85"/>
<circle cx="210.2" cy="372" r="1.85"/>
<circle cx="225" cy="369.4" r="1.85"/>
<circle cx="184.9" cy="350.7" r="1.85"/>
<circle cx="209.3" cy="346.7" r="1.85"/>
<circle cx="197.5" cy="369.7" r="1.85"/>
<circle cx="197.7" cy="336.7" r="1.85"/>
<circle cx="187.8" cy="342.6" r="1.85"/>
<circle cx="186.2" cy="343.6" r="1.85"/>
<circle cx="214.2" cy="378.3" r="1.85"/>
<circle cx="185.9" cy="348.8" r="1.85"/>
<circle cx="209.1" cy="371.5" r="1.85"/>
<circle cx="231" cy="369.4" r="1.85"/>
<circle cx="210.1" cy="368.2" r="1.85"/>
<circle cx="231.4" cy="350.1" r="1.85"/>
<circle cx="197.2" cy="368.7" r="1.85"/>
<circle cx="233.4" cy="356.5" r="1.85"/>
<circle cx="210.3" cy="372.6" r="1.85"/>
<circle cx="203.9" cy="336.4" r="1.85"/>
<circle cx="223.9" cy="344.3" r="1.85"/>
<circle cx="209.5" cy="370.1" r="1.85"/>
<circle cx="198.7" cy="335.7" r="1.85"/>
<circle cx="193.3" cy="342.4" r="1.85"/>
<circle cx="198" cy="340.2" r="1.85"/>
<circle cx="185.4" cy="344.4" r="1.85"/>
<circle cx="208.7" cy="370.3" r="1.85"/>
<circle cx="221.2" cy="342.6" r="1.85"/>
<circle cx="228.4" cy="347.5" r="1.85"/>
<circle cx="207.6" cy="365.9" r="1.85"/>
<circle cx="211.9" cy="375.1" r="1.85"/>
<circle cx="185.6" cy="352.5" r="1.85"/>
<circle cx="212.8" cy="376" r="1.85"/>
<circle cx="185.8" cy="346.1" r="1.85"/>
<circle cx="206.1" cy="343" r="1.85"/>
<circle cx="212.4" cy="374.6" r="1.85"/>
<circle cx="206.7" cy="343" r="1.85"/>
<circle cx="186.3" cy="344.1" r="1.85"/>
<circle cx="216.7" cy="368.8" r="1.85"/>
<circle cx="190.6" cy="360.1" r="1.85"/>
<circle cx="232.4" cy="352.4" r="1.85"/>
<circle cx="207.7" cy="348.7" r="1.85"/>
<circle cx="215.3" cy="367.2" r="1.85"/>
<circle cx="212.5" cy="368.1" r="1.85"/>
<circle cx="185.1" cy="343" r="1.85"/>
<circle cx="222.1" cy="343.3" r="1.85"/>
<circle cx="206.1" cy="369.1" r="1.85"/>
<circle cx="209.6" cy="366.4" r="1.85"/>
<circle cx="211.9" cy="372.5" r="1.85"/>
<circle cx="217.9" cy="342.2" r="1.85"/>
<circle cx="216.7" cy="368.8" r="1.85"/>
<circle cx="211.4" cy="366" r="1.85"/>
<circle cx="218.9" cy="369.1" r="1.85"/>
<circle cx="188.4" cy="357" r="1.85"/>
<circle cx="190.1" cy="358.8" r="1.85"/>
<circle cx="197.2" cy="342.3" r="1.85"/>
<circle cx="193.2" cy="365" r="1.85"/>
<circle cx="199.7" cy="329.9" r="1.85"/>
<circle cx="184.9" cy="349" r="1.85"/>
<circle cx="233.6" cy="356.9" r="1.85"/>
<circle cx="200" cy="325.2" r="1.85"/>
<circle cx="189.8" cy="357.6" r="1.85"/>
<circle cx="232.3" cy="351.6" r="1.85"/>
<circle cx="185.7" cy="343.8" r="1.85"/>
<circle cx="186.5" cy="353.8" r="1.85"/>
<circle cx="211.4" cy="366.3" r="1.85"/>
<circle cx="200.3" cy="329.5" r="1.85"/>
<circle cx="199.5" cy="333.1" r="1.85"/>
<circle cx="200.8" cy="332.4" r="1.85"/>
<circle cx="199.1" cy="332" r="1.85"/>
<circle cx="201.9" cy="332.3" r="1.85"/>
<circle cx="204.8" cy="340.8" r="1.85"/>
<circle cx="200" cy="327.2" r="1.85"/>
<circle cx="227.6" cy="370.8" r="1.85"/>
<circle cx="186.9" cy="342.3" r="1.85"/>
<circle cx="207.3" cy="368.8" r="1.85"/>
<circle cx="194" cy="341.7" r="1.85"/>
<circle cx="190.8" cy="358.5" r="1.85"/>
<circle cx="214.8" cy="344.2" r="1.85"/>
<circle cx="214.4" cy="376.7" r="1.85"/>
<circle cx="201.4" cy="331.7" r="1.85"/>
<circle cx="219.9" cy="341.6" r="1.85"/>
<circle cx="189.2" cy="342.9" r="1.85"/>
<circle cx="221.4" cy="342.4" r="1.85"/>
<circle cx="190.5" cy="358.2" r="1.85"/>
<circle cx="189" cy="342.1" r="1.85"/>
<circle cx="218.1" cy="343.1" r="1.85"/>
<circle cx="198.9" cy="333.9" r="1.85"/>
<circle cx="188.4" cy="342.9" r="1.85"/>
<circle cx="193" cy="364.4" r="1.85"/>
<circle cx="233.9" cy="361.7" r="1.85"/>
<circle cx="188.4" cy="357.3" r="1.85"/>
<circle cx="198.6" cy="338" r="1.85"/>
<circle cx="197" cy="340.9" r="1.85"/>
<circle cx="229.7" cy="347" r="1.85"/>
<circle cx="192.7" cy="362.7" r="1.85"/>
<circle cx="209.5" cy="367.2" r="1.85"/>
<circle cx="214.7" cy="368.4" r="1.85"/>
<circle cx="203.4" cy="335.8" r="1.85"/>
<circle cx="227.8" cy="370.6" r="1.85"/>
<circle cx="207.5" cy="346.4" r="1.85"/>
<circle cx="213" cy="366.5" r="1.85"/>
<circle cx="207.5" cy="348.4" r="1.85"/>
<circle cx="199.3" cy="332.1" r="1.85"/>
<circle cx="234.7" cy="363.7" r="1.85"/>
<circle cx="196.8" cy="369.1" r="1.85"/>
<circle cx="217.8" cy="369" r="1.85"/>
<circle cx="225" cy="344.4" r="1.85"/>
<circle cx="216.6" cy="369" r="1.85"/>
<circle cx="193.6" cy="365.4" r="1.85"/>
<circle cx="213.6" cy="367" r="1.85"/>
<circle cx="200.6" cy="322.3" r="1.85"/>
<circle cx="200.2" cy="327.1" r="1.85"/>
<circle cx="199.9" cy="328" r="1.85"/>
<circle cx="199.7" cy="331.8" r="1.85"/>
<circle cx="199" cy="333.7" r="1.85"/>
<circle cx="197.4" cy="336.7" r="1.85"/>
<circle cx="196.2" cy="340" r="1.85"/>
<circle cx="195.5" cy="341.6" r="1.85"/>
<circle cx="192.8" cy="341.9" r="1.85"/>
<circle cx="190.1" cy="342.4" r="1.85"/>
<circle cx="187.8" cy="342.5" r="1.85"/>
<circle cx="186.7" cy="342.9" r="1.85"/>
<circle cx="184.3" cy="343.5" r="1.85"/>
<circle cx="185" cy="347.9" r="1.85"/>
<circle cx="185.3" cy="349.9" r="1.85"/>
<circle cx="184.7" cy="352.4" r="1.85"/>
<circle cx="186" cy="354" r="1.85"/>
<circle cx="188.2" cy="356.3" r="1.85"/>
<circle cx="188.3" cy="359.2" r="1.85"/>
<circle cx="191.5" cy="361.9" r="1.85"/>
<circle cx="190.8" cy="363.2" r="1.85"/>
<circle cx="193.6" cy="366.5" r="1.85"/>
<circle cx="193.7" cy="369.1" r="1.85"/>
<circle cx="195.2" cy="369.2" r="1.85"/>
<circle cx="198.5" cy="369.6" r="1.85"/>
<circle cx="200.7" cy="370.5" r="1.85"/>
<circle cx="204" cy="370" r="1.85"/>
<circle cx="206.8" cy="368.8" r="1.85"/>
<circle cx="207.9" cy="370.1" r="1.85"/>
<circle cx="208.6" cy="372.2" r="1.85"/>
<circle cx="211.1" cy="373.8" r="1.85"/>
<circle cx="212.5" cy="377.3" r="1.85"/>
<circle cx="213.2" cy="377.1" r="1.85"/>
<circle cx="216.4" cy="379.5" r="1.85"/>
<circle cx="214.4" cy="376.9" r="1.85"/>
<circle cx="213.6" cy="374.8" r="1.85"/>
<circle cx="213.6" cy="373.9" r="1.85"/>
<circle cx="212.4" cy="372" r="1.85"/>
<circle cx="212.2" cy="369.7" r="1.85"/>
<circle cx="214.2" cy="368.4" r="1.85"/>
<circle cx="217.4" cy="370" r="1.85"/>
<circle cx="219.5" cy="370.4" r="1.85"/>
<circle cx="222.3" cy="369.8" r="1.85"/>
<circle cx="225.6" cy="369.7" r="1.85"/>
<circle cx="228" cy="371.9" r="1.85"/>
<circle cx="231.4" cy="371.9" r="1.85"/>
<circle cx="233.3" cy="369" r="1.85"/>
<circle cx="233.4" cy="367.6" r="1.85"/>
<circle cx="235.3" cy="366.1" r="1.85"/>
<circle cx="234.5" cy="361.9" r="1.85"/>
<circle cx="235.1" cy="360.7" r="1.85"/>
<circle cx="235.5" cy="357.1" r="1.85"/>
<circle cx="234.6" cy="356.3" r="1.85"/>
<circle cx="234.4" cy="352.5" r="1.85"/>
<circle cx="231.9" cy="350.6" r="1.85"/>
<circle cx="231" cy="348.3" r="1.85"/>
<circle cx="230.4" cy="347.2" r="1.85"/>
<circle cx="228.8" cy="344.3" r="1.85"/>
<circle cx="225.9" cy="342.8" r="1.85"/>
<circle cx="222.3" cy="342.5" r="1.85"/>
<circle cx="221.8" cy="341.8" r="1.85"/>
<circle cx="217.4" cy="340.8" r="1.85"/>
<circle cx="215.5" cy="341.8" r="1.85"/>
<circle cx="213.7" cy="343.1" r="1.85"/>
<circle cx="210.8" cy="344.3" r="1.85"/>
<circle cx="208.4" cy="345.6" r="1.85"/>
<circle cx="206.9" cy="343.9" r="1.85"/>
<circle cx="206.3" cy="341.1" r="1.85"/>
<circle cx="204.6" cy="337.7" r="1.85"/>
<circle cx="205.4" cy="337.5" r="1.85"/>
<circle cx="204.5" cy="333.6" r="1.85"/>
<circle cx="202.4" cy="332.1" r="1.85"/>
<circle cx="200.6" cy="330.7" r="1.85"/>
<circle cx="201.1" cy="327.7" r="1.85"/>
<circle cx="200" cy="324" r="1.85"/>
<circle cx="238.4" cy="353.9" r="1.85"/>
<circle cx="236.1" cy="346" r="1.85"/>
<circle cx="238.1" cy="346.7" r="1.85"/>
<circle cx="239.3" cy="347.3" r="1.85"/>
<circle cx="240.2" cy="351.5" r="1.85"/>
<circle cx="239.9" cy="350.6" r="1.85"/>
<circle cx="238.8" cy="352" r="1.85"/>
<circle cx="239.4" cy="347.8" r="1.85"/>
<circle cx="239.7" cy="350.1" r="1.85"/>
<circle cx="238.7" cy="350.5" r="1.85"/>
<circle cx="235.8" cy="352.7" r="1.85"/>
<circle cx="199.6" cy="320.8" r="1.85"/>
<circle cx="203.9" cy="323.7" r="1.85"/>
<circle cx="201" cy="328" r="1.85"/>
<circle cx="219.5" cy="336.5" r="1.85"/>
<circle cx="211" cy="340.8" r="1.85"/>
<circle cx="224.5" cy="342.2" r="1.85"/>
<circle cx="233.8" cy="346.4" r="1.85"/>
<circle cx="238.7" cy="352.1" r="1.85"/>
<circle cx="243" cy="348.6" r="1.85"/>
<circle cx="247.3" cy="346.4" r="1.85"/>
<circle cx="241.6" cy="351.4" r="1.85"/>
<circle cx="235.9" cy="374.2" r="1.85"/>
<circle cx="195.4" cy="372.8" r="1.85"/>
<circle cx="196.1" cy="377" r="1.85"/>
<circle cx="189" cy="359.3" r="1.85"/>
<circle cx="221.7" cy="371.3" r="1.85"/>
</g>
<path d="M182.6 347.2C183.6 347.6 186.9 348.9 189 350C191 351.1 192.9 352.9 194.6 353.6C196.4 354.2 197.8 354.6 199.6 353.8C201.4 353.1 203.5 349.7 205.3 349.3C207.1 348.9 208.3 350.6 210.3 351.4C212.3 352.3 214.8 353.3 217.4 354.3C220 355.2 222.9 356.1 225.9 357.1C229 358.2 232.3 359.4 235.9 360.7C239.5 361.9 245.4 364 247.3 364.7" fill="none" stroke="#f01c1c" stroke-width="1.05"/>
</g>
<clipPath id="c54"><rect x="260" y="319.2" width="69.5" height="64.7"/></clipPath>
<g clip-path="url(#c54)">
<path d="M263.4 335.9 L263.4 343.4 L267.5 366.5 L271.5 370.5 L274.7 376.8 L275.4 379.3 L277.3 378.6 L278.4 375.2 L282.2 369.5 L299.6 369.5 L302.1 366.9 L300.8 360.3 L304.1 353.7 L306.8 349.7 L309.4 336.6 L309.1 335.5 L307.2 337.1 L301.1 336.3 L295.6 339.1 L288.5 339.1 L287.7 334.4 L287.2 334.3 L282.9 337.9 L274.7 336.2 L266.6 335.5Z" fill="#000"/>
<g fill="none" stroke="#000" stroke-width="1.1">
<circle cx="303.3" cy="353.6" r="1.85"/>
<circle cx="288.2" cy="338.2" r="1.85"/>
<circle cx="271.1" cy="369.5" r="1.85"/>
<circle cx="300.5" cy="368.5" r="1.85"/>
<circle cx="268" cy="365.1" r="1.85"/>
<circle cx="265.8" cy="350.9" r="1.85"/>
<circle cx="270.9" cy="370.2" r="1.85"/>
<circle cx="274.8" cy="374.7" r="1.85"/>
<circle cx="268.9" cy="336.1" r="1.85"/>
<circle cx="273.8" cy="373.7" r="1.85"/>
<circle cx="271.4" cy="369.4" r="1.85"/>
<circle cx="272.4" cy="372.4" r="1.85"/>
<circle cx="265.5" cy="355.3" r="1.85"/>
<circle cx="267.4" cy="335.7" r="1.85"/>
<circle cx="308.9" cy="338.6" r="1.85"/>
<circle cx="298.2" cy="338" r="1.85"/>
<circle cx="303.4" cy="337.6" r="1.85"/>
<circle cx="276.4" cy="336.6" r="1.85"/>
<circle cx="293.2" cy="369.6" r="1.85"/>
<circle cx="279" cy="337.1" r="1.85"/>
<circle cx="285.9" cy="369.4" r="1.85"/>
<circle cx="276.8" cy="336.8" r="1.85"/>
<circle cx="269.1" cy="336" r="1.85"/>
<circle cx="271.4" cy="369.3" r="1.85"/>
<circle cx="263.4" cy="336" r="1.85"/>
<circle cx="281.4" cy="369.2" r="1.85"/>
<circle cx="266.2" cy="361.1" r="1.85"/>
<circle cx="263.6" cy="341.3" r="1.85"/>
<circle cx="278" cy="337.7" r="1.85"/>
<circle cx="300.4" cy="363.6" r="1.85"/>
<circle cx="296.9" cy="338.7" r="1.85"/>
<circle cx="265.9" cy="355.5" r="1.85"/>
<circle cx="265.3" cy="335.8" r="1.85"/>
<circle cx="276.8" cy="377.2" r="1.85"/>
<circle cx="267.3" cy="366.5" r="1.85"/>
<circle cx="264.9" cy="347.4" r="1.85"/>
<circle cx="273.8" cy="373.3" r="1.85"/>
<circle cx="264.6" cy="347.3" r="1.85"/>
<circle cx="265.1" cy="348.9" r="1.85"/>
<circle cx="303.1" cy="336.4" r="1.85"/>
<circle cx="306.4" cy="347" r="1.85"/>
<circle cx="278" cy="374.7" r="1.85"/>
<circle cx="287.9" cy="369.5" r="1.85"/>
<circle cx="267.5" cy="366.1" r="1.85"/>
<circle cx="294.7" cy="368.9" r="1.85"/>
<circle cx="274.8" cy="374.8" r="1.85"/>
<circle cx="264.4" cy="336.9" r="1.85"/>
<circle cx="307.5" cy="346.6" r="1.85"/>
<circle cx="307.6" cy="343" r="1.85"/>
<circle cx="275.2" cy="336" r="1.85"/>
<circle cx="280.2" cy="337.8" r="1.85"/>
<circle cx="287.2" cy="337.4" r="1.85"/>
<circle cx="307.3" cy="343.7" r="1.85"/>
<circle cx="281.7" cy="338.7" r="1.85"/>
<circle cx="293.1" cy="339.3" r="1.85"/>
<circle cx="278.5" cy="375.1" r="1.85"/>
<circle cx="279.8" cy="372.4" r="1.85"/>
<circle cx="279.9" cy="336.9" r="1.85"/>
<circle cx="285" cy="336.6" r="1.85"/>
<circle cx="298" cy="369.3" r="1.85"/>
<circle cx="305.9" cy="350.3" r="1.85"/>
<circle cx="286" cy="336.2" r="1.85"/>
<circle cx="265.9" cy="353.9" r="1.85"/>
<circle cx="266.8" cy="362.5" r="1.85"/>
<circle cx="266.4" cy="354.8" r="1.85"/>
<circle cx="300.5" cy="367.6" r="1.85"/>
<circle cx="289.6" cy="368.3" r="1.85"/>
<circle cx="295.6" cy="368.4" r="1.85"/>
<circle cx="268.3" cy="367.8" r="1.85"/>
<circle cx="289.6" cy="340" r="1.85"/>
<circle cx="273.1" cy="336.5" r="1.85"/>
<circle cx="288" cy="336.6" r="1.85"/>
<circle cx="267.7" cy="362.6" r="1.85"/>
<circle cx="278.3" cy="374.2" r="1.85"/>
<circle cx="279.5" cy="371.3" r="1.85"/>
<circle cx="301.6" cy="337.3" r="1.85"/>
<circle cx="295.9" cy="338.7" r="1.85"/>
<circle cx="300.7" cy="367.3" r="1.85"/>
<circle cx="282.4" cy="368.7" r="1.85"/>
<circle cx="265.1" cy="349.1" r="1.85"/>
<circle cx="307.3" cy="336.8" r="1.85"/>
<circle cx="274.7" cy="337" r="1.85"/>
<circle cx="292.5" cy="338.9" r="1.85"/>
<circle cx="284.8" cy="336.1" r="1.85"/>
<circle cx="278.8" cy="374.1" r="1.85"/>
<circle cx="283.7" cy="337.8" r="1.85"/>
<circle cx="308.3" cy="335.9" r="1.85"/>
<circle cx="266.6" cy="355" r="1.85"/>
<circle cx="303.2" cy="356" r="1.85"/>
<circle cx="266.2" cy="354.4" r="1.85"/>
<circle cx="274.9" cy="375.5" r="1.85"/>
<circle cx="299.7" cy="368.1" r="1.85"/>
<circle cx="301.8" cy="366.6" r="1.85"/>
<circle cx="280.3" cy="370.9" r="1.85"/>
<circle cx="300.9" cy="357.9" r="1.85"/>
<circle cx="269.3" cy="335.4" r="1.85"/>
<circle cx="269.8" cy="369" r="1.85"/>
<circle cx="272.1" cy="369.6" r="1.85"/>
<circle cx="271.2" cy="370.2" r="1.85"/>
<circle cx="263.2" cy="336.9" r="1.85"/>
<circle cx="262.1" cy="338" r="1.85"/>
<circle cx="262.7" cy="343.1" r="1.85"/>
<circle cx="262.8" cy="344.8" r="1.85"/>
<circle cx="264" cy="347.5" r="1.85"/>
<circle cx="263.2" cy="349.1" r="1.85"/>
<circle cx="264.9" cy="351.5" r="1.85"/>
<circle cx="264.3" cy="354.9" r="1.85"/>
<circle cx="264.9" cy="356.7" r="1.85"/>
<circle cx="264.7" cy="360" r="1.85"/>
<circle cx="266.2" cy="363.3" r="1.85"/>
<circle cx="267.6" cy="363.7" r="1.85"/>
<circle cx="268" cy="367.4" r="1.85"/>
<circle cx="269.3" cy="369.7" r="1.85"/>
<circle cx="271.7" cy="372.2" r="1.85"/>
<circle cx="271.4" cy="372.4" r="1.85"/>
<circle cx="273.7" cy="376.1" r="1.85"/>
<circle cx="275.2" cy="378.7" r="1.85"/>
<circle cx="275.3" cy="379.6" r="1.85"/>
<circle cx="277" cy="378.7" r="1.85"/>
<circle cx="278.5" cy="376.3" r="1.85"/>
<circle cx="280.7" cy="373.7" r="1.85"/>
<circle cx="280.3" cy="371.2" r="1.85"/>
<circle cx="284.3" cy="369.2" r="1.85"/>
<circle cx="286.6" cy="370.6" r="1.85"/>
<circle cx="289.5" cy="370.8" r="1.85"/>
<circle cx="291.2" cy="369.8" r="1.85"/>
<circle cx="294.3" cy="370.6" r="1.85"/>
<circle cx="297.4" cy="369.1" r="1.85"/>
<circle cx="298.8" cy="370.5" r="1.85"/>
<circle cx="300.7" cy="369.1" r="1.85"/>
<circle cx="301.8" cy="366.7" r="1.85"/>
<circle cx="302.2" cy="363.3" r="1.85"/>
<circle cx="301.2" cy="361.8" r="1.85"/>
<circle cx="301.9" cy="357.8" r="1.85"/>
<circle cx="303.2" cy="355.7" r="1.85"/>
<circle cx="304.9" cy="354.1" r="1.85"/>
<circle cx="305" cy="351.9" r="1.85"/>
<circle cx="306.1" cy="350.1" r="1.85"/>
<circle cx="307.9" cy="346.8" r="1.85"/>
<circle cx="308.9" cy="345.5" r="1.85"/>
<circle cx="309.4" cy="342.8" r="1.85"/>
<circle cx="309.4" cy="338.1" r="1.85"/>
<circle cx="310.1" cy="335.6" r="1.85"/>
<circle cx="308.5" cy="334.7" r="1.85"/>
<circle cx="305.8" cy="336.5" r="1.85"/>
<circle cx="303.4" cy="335.8" r="1.85"/>
<circle cx="301.2" cy="335.5" r="1.85"/>
<circle cx="298" cy="336.3" r="1.85"/>
<circle cx="297" cy="337.7" r="1.85"/>
<circle cx="293.8" cy="338.9" r="1.85"/>
<circle cx="290.1" cy="338.5" r="1.85"/>
<circle cx="289.7" cy="338.4" r="1.85"/>
<circle cx="287.5" cy="335.1" r="1.85"/>
<circle cx="287.9" cy="333.5" r="1.85"/>
<circle cx="285.1" cy="335.2" r="1.85"/>
<circle cx="282.9" cy="338.1" r="1.85"/>
<circle cx="279.6" cy="336.7" r="1.85"/>
<circle cx="278.4" cy="336.6" r="1.85"/>
<circle cx="274.7" cy="334.8" r="1.85"/>
<circle cx="272.4" cy="336.5" r="1.85"/>
<circle cx="269.6" cy="335.4" r="1.85"/>
<circle cx="267.9" cy="335.9" r="1.85"/>
<circle cx="264.8" cy="336.3" r="1.85"/>
<circle cx="307.5" cy="329.8" r="1.85"/>
<circle cx="322.5" cy="324.9" r="1.85"/>
<circle cx="323.2" cy="320.8" r="1.85"/>
<circle cx="311.4" cy="328.9" r="1.85"/>
<circle cx="312.2" cy="327.8" r="1.85"/>
<circle cx="306.8" cy="329.3" r="1.85"/>
<circle cx="316.3" cy="330" r="1.85"/>
<circle cx="310.8" cy="334.6" r="1.85"/>
<circle cx="309.1" cy="334.3" r="1.85"/>
<circle cx="300.9" cy="373.6" r="1.85"/>
<circle cx="303.3" cy="363.8" r="1.85"/>
<circle cx="300.6" cy="366" r="1.85"/>
<circle cx="308.6" cy="373.2" r="1.85"/>
<circle cx="300.7" cy="370.7" r="1.85"/>
<circle cx="302.4" cy="371.8" r="1.85"/>
<circle cx="301.9" cy="373.4" r="1.85"/>
<circle cx="301.1" cy="363.7" r="1.85"/>
<circle cx="300.4" cy="365.4" r="1.85"/>
<circle cx="306.4" cy="366.5" r="1.85"/>
<circle cx="262.3" cy="336.5" r="1.85"/>
<circle cx="263.7" cy="372.8" r="1.85"/>
<circle cx="266.5" cy="376.3" r="1.85"/>
<circle cx="275.1" cy="380.6" r="1.85"/>
<circle cx="279.3" cy="379.2" r="1.85"/>
<circle cx="305.7" cy="328" r="1.85"/>
<circle cx="310.6" cy="325.8" r="1.85"/>
<circle cx="313.5" cy="323.7" r="1.85"/>
<circle cx="317.7" cy="325.1" r="1.85"/>
<circle cx="320.6" cy="322.3" r="1.85"/>
<circle cx="323.4" cy="320.8" r="1.85"/>
<circle cx="326.3" cy="323.7" r="1.85"/>
<circle cx="314.9" cy="332.2" r="1.85"/>
<circle cx="299.3" cy="332.2" r="1.85"/>
<circle cx="295" cy="333.6" r="1.85"/>
<circle cx="303.5" cy="363.5" r="1.85"/>
<circle cx="307.8" cy="366.4" r="1.85"/>
<circle cx="306.4" cy="372.1" r="1.85"/>
<circle cx="302.1" cy="372.1" r="1.85"/>
<circle cx="312.8" cy="374.2" r="1.85"/>
<circle cx="310.6" cy="347.9" r="1.85"/>
<circle cx="306.4" cy="353.6" r="1.85"/>
</g>
<path d="M262.3 340C263.5 341.1 267 344.2 269.4 346.4C271.8 348.7 274.5 352.1 276.5 353.6C278.5 355 279.3 355.2 281.5 355C283.6 354.7 286.6 353.2 289.3 352.1C292 351.1 294.5 350 297.8 348.6C301.1 347.2 306.1 344.9 309.2 343.6C312.3 342.3 313.5 341.9 316.3 340.8C319.2 339.6 324.6 337.2 326.3 336.5" fill="none" stroke="#f01c1c" stroke-width="1.05"/>
</g>
<clipPath id="c61"><rect x="21.5" y="393.9" width="68.5" height="64"/></clipPath>
<g clip-path="url(#c61)">
<path d="M53.9 407.1 L52.4 411.3 L51.1 416.4 L51.7 422.8 L53 427.8 L56.6 432.2 L57.5 438.9 L56.8 445.9 L57.7 449.4 L58.8 443.8 L61.8 437.6 L64.7 433.4 L66.4 430 L65.8 426.7 L61.6 410 L59.8 406.2Z" fill="#000"/>
<g fill="none" stroke="#000" stroke-width="1.1">
<circle cx="62.5" cy="412.3" r="1.85"/>
<circle cx="51.4" cy="417.9" r="1.85"/>
<circle cx="62.7" cy="416.7" r="1.85"/>
<circle cx="51.8" cy="419.1" r="1.85"/>
<circle cx="53.1" cy="427" r="1.85"/>
<circle cx="62.5" cy="417.9" r="1.85"/>
<circle cx="57" cy="443.1" r="1.85"/>
<circle cx="58.3" cy="439" r="1.85"/>
<circle cx="65.7" cy="430.3" r="1.85"/>
<circle cx="54" cy="409.5" r="1.85"/>
<circle cx="60.8" cy="438.6" r="1.85"/>
<circle cx="64.8" cy="425.8" r="1.85"/>
<circle cx="58.1" cy="435.8" r="1.85"/>
<circle cx="53.7" cy="427.2" r="1.85"/>
<circle cx="54" cy="407.1" r="1.85"/>
<circle cx="51.4" cy="421.2" r="1.85"/>
<circle cx="53.4" cy="409.4" r="1.85"/>
<circle cx="57.9" cy="439.5" r="1.85"/>
<circle cx="51.8" cy="414.4" r="1.85"/>
<circle cx="63.5" cy="421.4" r="1.85"/>
<circle cx="58.1" cy="444.3" r="1.85"/>
<circle cx="65.7" cy="430" r="1.85"/>
<circle cx="58.5" cy="406.2" r="1.85"/>
<circle cx="53.7" cy="409" r="1.85"/>
<circle cx="56.7" cy="432.6" r="1.85"/>
<circle cx="52.6" cy="424.7" r="1.85"/>
<circle cx="57.1" cy="447.3" r="1.85"/>
<circle cx="61.2" cy="409.1" r="1.85"/>
<circle cx="66.3" cy="430.9" r="1.85"/>
<circle cx="60.4" cy="440.8" r="1.85"/>
<circle cx="64.6" cy="432.7" r="1.85"/>
<circle cx="57.8" cy="432.7" r="1.85"/>
<circle cx="53.4" cy="428.4" r="1.85"/>
<circle cx="58.2" cy="444.3" r="1.85"/>
<circle cx="60.2" cy="407.2" r="1.85"/>
<circle cx="62.7" cy="412.6" r="1.85"/>
<circle cx="58" cy="436.9" r="1.85"/>
<circle cx="52.5" cy="419.5" r="1.85"/>
<circle cx="52.3" cy="419" r="1.85"/>
<circle cx="62.7" cy="413.1" r="1.85"/>
<circle cx="52.9" cy="412.5" r="1.85"/>
<circle cx="64.8" cy="433.5" r="1.85"/>
<circle cx="62.5" cy="414" r="1.85"/>
<circle cx="62.3" cy="413" r="1.85"/>
<circle cx="63" cy="414.5" r="1.85"/>
<circle cx="52.2" cy="418.8" r="1.85"/>
<circle cx="55" cy="430.5" r="1.85"/>
<circle cx="62.3" cy="415.6" r="1.85"/>
<circle cx="63.2" cy="420.7" r="1.85"/>
<circle cx="58.1" cy="443.5" r="1.85"/>
<circle cx="60.4" cy="406.8" r="1.85"/>
<circle cx="52" cy="419.7" r="1.85"/>
<circle cx="60.2" cy="409.5" r="1.85"/>
<circle cx="58.4" cy="445.7" r="1.85"/>
<circle cx="58.3" cy="443.2" r="1.85"/>
<circle cx="53.6" cy="406.9" r="1.85"/>
<circle cx="52.7" cy="408.9" r="1.85"/>
<circle cx="50.9" cy="412.6" r="1.85"/>
<circle cx="50.8" cy="414.3" r="1.85"/>
<circle cx="50.4" cy="418.7" r="1.85"/>
<circle cx="50.4" cy="419.7" r="1.85"/>
<circle cx="50.9" cy="422" r="1.85"/>
<circle cx="52" cy="425.4" r="1.85"/>
<circle cx="53.6" cy="427.4" r="1.85"/>
<circle cx="53.8" cy="430.5" r="1.85"/>
<circle cx="56.3" cy="432.2" r="1.85"/>
<circle cx="56.9" cy="435.2" r="1.85"/>
<circle cx="56.3" cy="437.6" r="1.85"/>
<circle cx="57.1" cy="438.7" r="1.85"/>
<circle cx="55.8" cy="441.4" r="1.85"/>
<circle cx="57.2" cy="445.3" r="1.85"/>
<circle cx="57.1" cy="447.7" r="1.85"/>
<circle cx="56.6" cy="449.6" r="1.85"/>
<circle cx="57.8" cy="451" r="1.85"/>
<circle cx="59.5" cy="447.8" r="1.85"/>
<circle cx="59.6" cy="445.9" r="1.85"/>
<circle cx="58.9" cy="442.6" r="1.85"/>
<circle cx="61.5" cy="440.5" r="1.85"/>
<circle cx="61.4" cy="437.4" r="1.85"/>
<circle cx="62.6" cy="436.8" r="1.85"/>
<circle cx="65.1" cy="434.9" r="1.85"/>
<circle cx="66.7" cy="431.9" r="1.85"/>
<circle cx="66.6" cy="428.8" r="1.85"/>
<circle cx="65.2" cy="427" r="1.85"/>
<circle cx="65.3" cy="423.9" r="1.85"/>
<circle cx="64.3" cy="420.1" r="1.85"/>
<circle cx="64.3" cy="419.5" r="1.85"/>
<circle cx="62.8" cy="416.3" r="1.85"/>
<circle cx="62.1" cy="412.2" r="1.85"/>
<circle cx="61.8" cy="411.3" r="1.85"/>
<circle cx="62.4" cy="408.6" r="1.85"/>
<circle cx="61.5" cy="406.8" r="1.85"/>
<circle cx="58.4" cy="407.1" r="1.85"/>
<circle cx="54.7" cy="406.9" r="1.85"/>
<circle cx="53.4" cy="394.8" r="1.85"/>
<circle cx="57" cy="397.7" r="1.85"/>
<circle cx="60.5" cy="399.1" r="1.85"/>
<circle cx="54.1" cy="402.7" r="1.85"/>
<circle cx="22.8" cy="413.3" r="1.85"/>
<circle cx="28.5" cy="413.3" r="1.85"/>
<circle cx="33.5" cy="417.6" r="1.85"/>
<circle cx="42" cy="416.2" r="1.85"/>
<circle cx="37.8" cy="426.1" r="1.85"/>
<circle cx="44.2" cy="426.1" r="1.85"/>
<circle cx="47" cy="421.9" r="1.85"/>
<circle cx="70.5" cy="426.9" r="1.85"/>
<circle cx="75.5" cy="429" r="1.85"/>
<circle cx="69.8" cy="433.3" r="1.85"/>
<circle cx="82.6" cy="432.5" r="1.85"/>
<circle cx="87.6" cy="436.8" r="1.85"/>
<circle cx="67.7" cy="442.5" r="1.85"/>
<circle cx="57.7" cy="454.6" r="1.85"/>
<circle cx="58.4" cy="451.7" r="1.85"/>
</g>
<path d="M22.8 415.5C23.8 415.6 26.4 415.9 28.5 416.2C30.7 416.4 33.3 416.8 35.6 416.9C38 417 40.5 416.7 42.8 416.6C45 416.5 47.3 415.9 49.2 416.5C51.1 417 52.6 418.5 54.1 419.7C55.7 421 57.2 423.9 58.4 424C59.6 424.1 60.1 419.6 61.3 420.4C62.4 421.3 64.2 426.1 65.5 429C66.8 431.8 67.9 436 69.1 437.5C70.3 439.1 71.3 438.3 72.6 438.2C73.9 438.1 75.2 437 76.9 436.8C78.6 436.6 80.7 436.6 82.6 436.8C84.5 437 87.3 438 88.3 438.2" fill="none" stroke="#f01c1c" stroke-width="1.05"/>
</g>
<clipPath id="c62"><rect x="100.5" y="393.9" width="69.5" height="64"/></clipPath>
<g clip-path="url(#c62)">
<path d="M114.6 400.3 L111.4 407.2 L109.3 414 L108 420.6 L110.1 441.1 L112.5 445.9 L115.7 449.1 L118.3 449.1 L122.9 446.8 L131.4 435.5 L137.3 432.5 L141.1 428.8 L143.1 425.7 L141.9 420.8 L141.9 417.5 L131.8 409.9 L125.9 406.9 L121.9 402.9 L116.4 401.5Z" fill="#000"/>
<g fill="none" stroke="#000" stroke-width="1.1">
<circle cx="108.4" cy="425.6" r="1.85"/>
<circle cx="131.5" cy="434.7" r="1.85"/>
<circle cx="110.2" cy="441.3" r="1.85"/>
<circle cx="118.3" cy="449.4" r="1.85"/>
<circle cx="113.5" cy="403.8" r="1.85"/>
<circle cx="141.2" cy="418.3" r="1.85"/>
<circle cx="136.6" cy="413.4" r="1.85"/>
<circle cx="142.7" cy="424.4" r="1.85"/>
<circle cx="136.1" cy="414" r="1.85"/>
<circle cx="116" cy="448.8" r="1.85"/>
<circle cx="108.5" cy="427.3" r="1.85"/>
<circle cx="140.2" cy="428" r="1.85"/>
<circle cx="112.2" cy="405.3" r="1.85"/>
<circle cx="111" cy="408" r="1.85"/>
<circle cx="123.3" cy="444.6" r="1.85"/>
<circle cx="127.8" cy="407.8" r="1.85"/>
<circle cx="112.7" cy="446" r="1.85"/>
<circle cx="132" cy="410.4" r="1.85"/>
<circle cx="139.5" cy="416.5" r="1.85"/>
<circle cx="133.5" cy="434.1" r="1.85"/>
<circle cx="141.2" cy="422" r="1.85"/>
<circle cx="120.3" cy="447" r="1.85"/>
<circle cx="109.9" cy="433" r="1.85"/>
<circle cx="120.1" cy="402.4" r="1.85"/>
<circle cx="110.1" cy="439.2" r="1.85"/>
<circle cx="115.6" cy="448.1" r="1.85"/>
<circle cx="113.4" cy="445.9" r="1.85"/>
<circle cx="113.2" cy="446.3" r="1.85"/>
<circle cx="111.2" cy="441.9" r="1.85"/>
<circle cx="108.4" cy="420.6" r="1.85"/>
<circle cx="124.4" cy="407" r="1.85"/>
<circle cx="110.6" cy="437.5" r="1.85"/>
<circle cx="140.1" cy="428.6" r="1.85"/>
<circle cx="125.4" cy="406.8" r="1.85"/>
<circle cx="118.3" cy="449" r="1.85"/>
<circle cx="141.4" cy="418.8" r="1.85"/>
<circle cx="109" cy="428.1" r="1.85"/>
<circle cx="120.2" cy="448.6" r="1.85"/>
<circle cx="123.1" cy="446.4" r="1.85"/>
<circle cx="116.8" cy="402.7" r="1.85"/>
<circle cx="113.5" cy="446" r="1.85"/>
<circle cx="114.3" cy="446.2" r="1.85"/>
<circle cx="113.1" cy="403.1" r="1.85"/>
<circle cx="137.9" cy="415.2" r="1.85"/>
<circle cx="112.3" cy="405.8" r="1.85"/>
<circle cx="120.1" cy="448.2" r="1.85"/>
<circle cx="125.5" cy="443.6" r="1.85"/>
<circle cx="115.2" cy="447" r="1.85"/>
<circle cx="110" cy="431.1" r="1.85"/>
<circle cx="123" cy="445.1" r="1.85"/>
<circle cx="123.5" cy="444.9" r="1.85"/>
<circle cx="111.4" cy="442.7" r="1.85"/>
<circle cx="108.2" cy="422.4" r="1.85"/>
<circle cx="109.5" cy="432.3" r="1.85"/>
<circle cx="108.5" cy="416.5" r="1.85"/>
<circle cx="140.2" cy="429.5" r="1.85"/>
<circle cx="110.5" cy="436.9" r="1.85"/>
<circle cx="122.9" cy="446" r="1.85"/>
<circle cx="141.6" cy="420.5" r="1.85"/>
<circle cx="133.1" cy="434.8" r="1.85"/>
<circle cx="108.9" cy="419.2" r="1.85"/>
<circle cx="135.8" cy="413.1" r="1.85"/>
<circle cx="115.9" cy="401.2" r="1.85"/>
<circle cx="109.5" cy="431.3" r="1.85"/>
<circle cx="123.1" cy="405.7" r="1.85"/>
<circle cx="109.7" cy="430.4" r="1.85"/>
<circle cx="111.6" cy="444.8" r="1.85"/>
<circle cx="112.9" cy="404.8" r="1.85"/>
<circle cx="111" cy="440.1" r="1.85"/>
<circle cx="111.2" cy="410.8" r="1.85"/>
<circle cx="126.8" cy="440.8" r="1.85"/>
<circle cx="109.7" cy="434.5" r="1.85"/>
<circle cx="133" cy="411.7" r="1.85"/>
<circle cx="109.8" cy="432.3" r="1.85"/>
<circle cx="126.7" cy="441" r="1.85"/>
<circle cx="138.3" cy="415.2" r="1.85"/>
<circle cx="129.9" cy="437.9" r="1.85"/>
<circle cx="110.1" cy="436.5" r="1.85"/>
<circle cx="114" cy="401.3" r="1.85"/>
<circle cx="112.7" cy="402.5" r="1.85"/>
<circle cx="112.3" cy="405" r="1.85"/>
<circle cx="110.4" cy="407.2" r="1.85"/>
<circle cx="109.3" cy="409.2" r="1.85"/>
<circle cx="109" cy="414.1" r="1.85"/>
<circle cx="108.3" cy="415.4" r="1.85"/>
<circle cx="107.2" cy="418" r="1.85"/>
<circle cx="107.8" cy="420.6" r="1.85"/>
<circle cx="108.5" cy="423.5" r="1.85"/>
<circle cx="107.4" cy="425.5" r="1.85"/>
<circle cx="107.9" cy="427.7" r="1.85"/>
<circle cx="107.8" cy="431.7" r="1.85"/>
<circle cx="108.3" cy="432.7" r="1.85"/>
<circle cx="109.7" cy="437.1" r="1.85"/>
<circle cx="109" cy="437.8" r="1.85"/>
<circle cx="109.8" cy="440.1" r="1.85"/>
<circle cx="110.5" cy="444.6" r="1.85"/>
<circle cx="111.3" cy="445.8" r="1.85"/>
<circle cx="114.3" cy="447.7" r="1.85"/>
<circle cx="116.5" cy="450.1" r="1.85"/>
<circle cx="117.5" cy="449.6" r="1.85"/>
<circle cx="120.1" cy="449" r="1.85"/>
<circle cx="123.8" cy="447.9" r="1.85"/>
<circle cx="125.1" cy="446.1" r="1.85"/>
<circle cx="126.5" cy="442.5" r="1.85"/>
<circle cx="127.6" cy="440.8" r="1.85"/>
<circle cx="130.4" cy="439.2" r="1.85"/>
<circle cx="130.2" cy="436.6" r="1.85"/>
<circle cx="132.8" cy="436.3" r="1.85"/>
<circle cx="135.5" cy="434.5" r="1.85"/>
<circle cx="136.5" cy="433.6" r="1.85"/>
<circle cx="139.2" cy="430.7" r="1.85"/>
<circle cx="141.6" cy="429.5" r="1.85"/>
<circle cx="143.3" cy="427.3" r="1.85"/>
<circle cx="144.1" cy="423.9" r="1.85"/>
<circle cx="143.8" cy="423.1" r="1.85"/>
<circle cx="142.8" cy="419.3" r="1.85"/>
<circle cx="142.5" cy="417" r="1.85"/>
<circle cx="140" cy="414.3" r="1.85"/>
<circle cx="138.9" cy="413.5" r="1.85"/>
<circle cx="134.4" cy="412.1" r="1.85"/>
<circle cx="133.1" cy="411.3" r="1.85"/>
<circle cx="130.7" cy="410" r="1.85"/>
<circle cx="129.3" cy="408.2" r="1.85"/>
<circle cx="126.9" cy="406.9" r="1.85"/>
<circle cx="126" cy="406.4" r="1.85"/>
<circle cx="122.2" cy="402.9" r="1.85"/>
<circle cx="121.9" cy="403.3" r="1.85"/>
<circle cx="117.6" cy="402.2" r="1.85"/>
<circle cx="114.9" cy="400.3" r="1.85"/>
<circle cx="167.3" cy="417.1" r="1.85"/>
<circle cx="159.9" cy="420.6" r="1.85"/>
<circle cx="154.7" cy="415.8" r="1.85"/>
<circle cx="164.4" cy="418.4" r="1.85"/>
<circle cx="155.4" cy="409.3" r="1.85"/>
<circle cx="158.8" cy="409.4" r="1.85"/>
<circle cx="148" cy="416.1" r="1.85"/>
<circle cx="150.5" cy="418.1" r="1.85"/>
<circle cx="165.3" cy="413.5" r="1.85"/>
<circle cx="145.2" cy="413.8" r="1.85"/>
<circle cx="148.1" cy="417.7" r="1.85"/>
<circle cx="147.2" cy="418.3" r="1.85"/>
<circle cx="159.6" cy="420.5" r="1.85"/>
<circle cx="159.5" cy="411" r="1.85"/>
<circle cx="150.9" cy="415.8" r="1.85"/>
<circle cx="149.2" cy="419.9" r="1.85"/>
<circle cx="164.5" cy="412.1" r="1.85"/>
<circle cx="147.9" cy="415.5" r="1.85"/>
<circle cx="156.9" cy="417" r="1.85"/>
<circle cx="165.5" cy="411.3" r="1.85"/>
<circle cx="145.6" cy="422.6" r="1.85"/>
<circle cx="103.3" cy="411.2" r="1.85"/>
<circle cx="113.9" cy="397.7" r="1.85"/>
<circle cx="116.1" cy="395.6" r="1.85"/>
<circle cx="121" cy="399.1" r="1.85"/>
<circle cx="124.6" cy="399.1" r="1.85"/>
<circle cx="125.3" cy="402.7" r="1.85"/>
<circle cx="135.3" cy="407.6" r="1.85"/>
<circle cx="148.8" cy="409.8" r="1.85"/>
<circle cx="153.1" cy="411.9" r="1.85"/>
<circle cx="156.6" cy="410.5" r="1.85"/>
<circle cx="150.2" cy="413.3" r="1.85"/>
<circle cx="165.9" cy="407.6" r="1.85"/>
<circle cx="167.3" cy="411.2" r="1.85"/>
<circle cx="162.3" cy="414.8" r="1.85"/>
<circle cx="161.6" cy="419.7" r="1.85"/>
<circle cx="155.9" cy="425.4" r="1.85"/>
<circle cx="151.6" cy="425.4" r="1.85"/>
<circle cx="148.1" cy="424.7" r="1.85"/>
<circle cx="140.3" cy="436.1" r="1.85"/>
<circle cx="133.1" cy="441.8" r="1.85"/>
<circle cx="124.6" cy="447.5" r="1.85"/>
<circle cx="116.1" cy="453.2" r="1.85"/>
<circle cx="128.9" cy="456" r="1.85"/>
<circle cx="145.9" cy="419" r="1.85"/>
<circle cx="153.1" cy="420.4" r="1.85"/>
<circle cx="158.7" cy="419" r="1.85"/>
</g>
<path d="M102.6 425.4C103.4 425 105.8 423.4 107.5 422.6C109.3 421.8 111.6 420.7 113.2 420.4C114.9 420.2 115.7 420.3 117.5 421.2C119.3 422 121.8 425.2 123.9 425.4C126 425.7 128 423.3 130.3 422.6C132.5 421.9 134.8 421.6 137.4 421.2C140 420.7 142.9 420.2 145.9 419.7C149 419.3 152.3 418.8 155.9 418.3C159.5 417.8 165.4 417.1 167.3 416.9" fill="none" stroke="#f01c1c" stroke-width="1.05"/>
</g>
<clipPath id="c63"><rect x="180.5" y="393.9" width="69.5" height="64"/></clipPath>
<g clip-path="url(#c63)">
<path d="M184.3 412.2 L183.7 420.5 L183.7 431.7 L184.4 441.4 L185.7 447.7 L187.3 445.3 L193.6 443.2 L198.3 446.3 L201.1 446.3 L202.2 440.5 L207.5 435.2 L213.7 433.6 L218.9 431 L224.5 426.8 L231.2 422.8 L233.5 419.4 L234.5 415.2 L232.6 412.4 L228.2 409.4 L226.2 405.4 L221.9 408.2 L217.1 413.1 L206.1 413.1 L200.9 406.1 L198.4 399.8 L197.6 399.5 L195.4 405 L188.9 409.9Z" fill="#000"/>
<g fill="none" stroke="#000" stroke-width="1.1">
<circle cx="233.3" cy="416" r="1.85"/>
<circle cx="196.4" cy="404.7" r="1.85"/>
<circle cx="221.1" cy="429" r="1.85"/>
<circle cx="215.9" cy="414.2" r="1.85"/>
<circle cx="211.6" cy="434.2" r="1.85"/>
<circle cx="195.6" cy="443.5" r="1.85"/>
<circle cx="196.9" cy="402.1" r="1.85"/>
<circle cx="213" cy="413.2" r="1.85"/>
<circle cx="226" cy="406.2" r="1.85"/>
<circle cx="185.6" cy="445.9" r="1.85"/>
<circle cx="184.6" cy="435.2" r="1.85"/>
<circle cx="204.8" cy="411.9" r="1.85"/>
<circle cx="185.7" cy="444.7" r="1.85"/>
<circle cx="233.2" cy="413.8" r="1.85"/>
<circle cx="183.9" cy="416.4" r="1.85"/>
<circle cx="227" cy="425.3" r="1.85"/>
<circle cx="222.3" cy="408.5" r="1.85"/>
<circle cx="184.6" cy="432" r="1.85"/>
<circle cx="192.8" cy="408.2" r="1.85"/>
<circle cx="226.4" cy="405.8" r="1.85"/>
<circle cx="216.2" cy="432.6" r="1.85"/>
<circle cx="192.8" cy="407" r="1.85"/>
<circle cx="201.4" cy="440.5" r="1.85"/>
<circle cx="198" cy="401.4" r="1.85"/>
<circle cx="189.2" cy="409.4" r="1.85"/>
<circle cx="214.5" cy="433.1" r="1.85"/>
<circle cx="214.8" cy="432.7" r="1.85"/>
<circle cx="232.9" cy="412.6" r="1.85"/>
<circle cx="184.9" cy="426.7" r="1.85"/>
<circle cx="194.7" cy="443.4" r="1.85"/>
<circle cx="217" cy="430.9" r="1.85"/>
<circle cx="186.5" cy="446.4" r="1.85"/>
<circle cx="184.5" cy="420.7" r="1.85"/>
<circle cx="200.4" cy="443.8" r="1.85"/>
<circle cx="221.7" cy="408" r="1.85"/>
<circle cx="206.1" cy="436.5" r="1.85"/>
<circle cx="229.6" cy="411.4" r="1.85"/>
<circle cx="184.7" cy="437.6" r="1.85"/>
<circle cx="184.3" cy="421.1" r="1.85"/>
<circle cx="230.8" cy="411.5" r="1.85"/>
<circle cx="184.4" cy="438.5" r="1.85"/>
<circle cx="196.2" cy="404.9" r="1.85"/>
<circle cx="208.5" cy="413.4" r="1.85"/>
<circle cx="199.4" cy="402.4" r="1.85"/>
<circle cx="184.1" cy="438.5" r="1.85"/>
<circle cx="198.7" cy="400.9" r="1.85"/>
<circle cx="203.9" cy="438.6" r="1.85"/>
<circle cx="206.1" cy="414.1" r="1.85"/>
<circle cx="203.1" cy="410.7" r="1.85"/>
<circle cx="193.1" cy="407.2" r="1.85"/>
<circle cx="221.5" cy="409.9" r="1.85"/>
<circle cx="211.2" cy="434.4" r="1.85"/>
<circle cx="208.1" cy="434.1" r="1.85"/>
<circle cx="184" cy="433.6" r="1.85"/>
<circle cx="232.8" cy="414" r="1.85"/>
<circle cx="203.6" cy="409" r="1.85"/>
<circle cx="185.6" cy="411.2" r="1.85"/>
<circle cx="208" cy="435" r="1.85"/>
<circle cx="202" cy="408.5" r="1.85"/>
<circle cx="203" cy="439.6" r="1.85"/>
<circle cx="203" cy="439.9" r="1.85"/>
<circle cx="193.1" cy="443.3" r="1.85"/>
<circle cx="199.3" cy="445.3" r="1.85"/>
<circle cx="195.8" cy="404.5" r="1.85"/>
<circle cx="234.4" cy="415.1" r="1.85"/>
<circle cx="215.7" cy="413.4" r="1.85"/>
<circle cx="204.5" cy="412.5" r="1.85"/>
<circle cx="204.4" cy="437.2" r="1.85"/>
<circle cx="191.5" cy="408.1" r="1.85"/>
<circle cx="188" cy="444.9" r="1.85"/>
<circle cx="184.5" cy="427.1" r="1.85"/>
<circle cx="232.4" cy="419.1" r="1.85"/>
<circle cx="218.3" cy="412.7" r="1.85"/>
<circle cx="206.7" cy="434.5" r="1.85"/>
<circle cx="185.1" cy="415.5" r="1.85"/>
<circle cx="194.8" cy="443.6" r="1.85"/>
<circle cx="223.8" cy="406.7" r="1.85"/>
<circle cx="206.4" cy="436.7" r="1.85"/>
<circle cx="224.4" cy="406.5" r="1.85"/>
<circle cx="184.9" cy="438.8" r="1.85"/>
<circle cx="214.4" cy="432.3" r="1.85"/>
<circle cx="232" cy="413.5" r="1.85"/>
<circle cx="200.5" cy="406.5" r="1.85"/>
<circle cx="232.9" cy="420.2" r="1.85"/>
<circle cx="211.5" cy="434.1" r="1.85"/>
<circle cx="200.9" cy="405.1" r="1.85"/>
<circle cx="209" cy="413.6" r="1.85"/>
<circle cx="189.7" cy="409.5" r="1.85"/>
<circle cx="210.1" cy="433.6" r="1.85"/>
<circle cx="234" cy="415.8" r="1.85"/>
<circle cx="185.5" cy="444.9" r="1.85"/>
<circle cx="211.6" cy="433.3" r="1.85"/>
<circle cx="202.1" cy="440.5" r="1.85"/>
<circle cx="200.5" cy="443.9" r="1.85"/>
<circle cx="193.9" cy="405.7" r="1.85"/>
<circle cx="201.4" cy="446.2" r="1.85"/>
<circle cx="225.6" cy="407.1" r="1.85"/>
<circle cx="227.4" cy="407.2" r="1.85"/>
<circle cx="201.4" cy="406.6" r="1.85"/>
<circle cx="204" cy="411.3" r="1.85"/>
<circle cx="221.5" cy="427.6" r="1.85"/>
<circle cx="184.7" cy="413.5" r="1.85"/>
<circle cx="191.9" cy="443.4" r="1.85"/>
<circle cx="183.5" cy="413.4" r="1.85"/>
<circle cx="183.6" cy="413.8" r="1.85"/>
<circle cx="182.8" cy="417.5" r="1.85"/>
<circle cx="183.2" cy="421.7" r="1.85"/>
<circle cx="184.1" cy="423.3" r="1.85"/>
<circle cx="184.2" cy="424.9" r="1.85"/>
<circle cx="182.6" cy="428.1" r="1.85"/>
<circle cx="184" cy="431" r="1.85"/>
<circle cx="183.4" cy="433.9" r="1.85"/>
<circle cx="183.2" cy="436.1" r="1.85"/>
<circle cx="184.6" cy="440.3" r="1.85"/>
<circle cx="184.6" cy="441.4" r="1.85"/>
<circle cx="184" cy="444.5" r="1.85"/>
<circle cx="185.2" cy="447.4" r="1.85"/>
<circle cx="186.6" cy="447.9" r="1.85"/>
<circle cx="187.4" cy="446.5" r="1.85"/>
<circle cx="190.3" cy="443.8" r="1.85"/>
<circle cx="192.8" cy="443.3" r="1.85"/>
<circle cx="195" cy="444.6" r="1.85"/>
<circle cx="198.8" cy="446.5" r="1.85"/>
<circle cx="201.6" cy="445.8" r="1.85"/>
<circle cx="200.6" cy="446.9" r="1.85"/>
<circle cx="201" cy="443.7" r="1.85"/>
<circle cx="203.9" cy="441" r="1.85"/>
<circle cx="204.7" cy="438.1" r="1.85"/>
<circle cx="206.2" cy="435.5" r="1.85"/>
<circle cx="208.8" cy="436" r="1.85"/>
<circle cx="210.8" cy="434.6" r="1.85"/>
<circle cx="212.8" cy="433.4" r="1.85"/>
<circle cx="216.8" cy="433.4" r="1.85"/>
<circle cx="218" cy="431.8" r="1.85"/>
<circle cx="220.7" cy="430.6" r="1.85"/>
<circle cx="224.3" cy="427.7" r="1.85"/>
<circle cx="225.9" cy="427.3" r="1.85"/>
<circle cx="227.4" cy="425" r="1.85"/>
<circle cx="229.8" cy="423.3" r="1.85"/>
<circle cx="231.2" cy="422.1" r="1.85"/>
<circle cx="234.4" cy="420.6" r="1.85"/>
<circle cx="234.8" cy="418.5" r="1.85"/>
<circle cx="235.8" cy="415.5" r="1.85"/>
<circle cx="233.2" cy="412.8" r="1.85"/>
<circle cx="231.4" cy="412.2" r="1.85"/>
<circle cx="228.5" cy="409.8" r="1.85"/>
<circle cx="227.7" cy="408.9" r="1.85"/>
<circle cx="226.4" cy="405.6" r="1.85"/>
<circle cx="224.9" cy="405.6" r="1.85"/>
<circle cx="222.8" cy="408.4" r="1.85"/>
<circle cx="221.9" cy="409.1" r="1.85"/>
<circle cx="219.1" cy="410.7" r="1.85"/>
<circle cx="218.3" cy="411.2" r="1.85"/>
<circle cx="213.5" cy="413.3" r="1.85"/>
<circle cx="211.2" cy="412.2" r="1.85"/>
<circle cx="209.4" cy="412" r="1.85"/>
<circle cx="208" cy="412.7" r="1.85"/>
<circle cx="204.1" cy="409.5" r="1.85"/>
<circle cx="202.6" cy="408.4" r="1.85"/>
<circle cx="201.6" cy="405.9" r="1.85"/>
<circle cx="201.3" cy="405.1" r="1.85"/>
<circle cx="200" cy="401.1" r="1.85"/>
<circle cx="197.8" cy="399.7" r="1.85"/>
<circle cx="196.9" cy="399.8" r="1.85"/>
<circle cx="195" cy="403" r="1.85"/>
<circle cx="195" cy="404.7" r="1.85"/>
<circle cx="191" cy="408.1" r="1.85"/>
<circle cx="190.6" cy="408.7" r="1.85"/>
<circle cx="188.2" cy="411" r="1.85"/>
<circle cx="184.8" cy="411.7" r="1.85"/>
<circle cx="243.4" cy="416.7" r="1.85"/>
<circle cx="234.7" cy="414.4" r="1.85"/>
<circle cx="236.7" cy="417.9" r="1.85"/>
<circle cx="238.2" cy="414.5" r="1.85"/>
<circle cx="243.6" cy="419.4" r="1.85"/>
<circle cx="233.2" cy="410.7" r="1.85"/>
<circle cx="246.1" cy="418.3" r="1.85"/>
<circle cx="244.4" cy="417.5" r="1.85"/>
<circle cx="239.2" cy="413.6" r="1.85"/>
<circle cx="241.3" cy="415.9" r="1.85"/>
<circle cx="237" cy="419.9" r="1.85"/>
<circle cx="238.5" cy="417" r="1.85"/>
<circle cx="196.1" cy="396.3" r="1.85"/>
<circle cx="199.6" cy="397.7" r="1.85"/>
<circle cx="204.6" cy="402" r="1.85"/>
<circle cx="228.1" cy="399.1" r="1.85"/>
<circle cx="228.8" cy="402.7" r="1.85"/>
<circle cx="233.1" cy="408.4" r="1.85"/>
<circle cx="236.6" cy="409.1" r="1.85"/>
<circle cx="237.3" cy="414.8" r="1.85"/>
<circle cx="238.7" cy="422.6" r="1.85"/>
<circle cx="233.8" cy="430.4" r="1.85"/>
<circle cx="221.7" cy="436.1" r="1.85"/>
<circle cx="218.8" cy="436.1" r="1.85"/>
<circle cx="210.3" cy="442.5" r="1.85"/>
<circle cx="203.2" cy="448.2" r="1.85"/>
<circle cx="203.9" cy="456" r="1.85"/>
<circle cx="186.1" cy="453.2" r="1.85"/>
<circle cx="245.9" cy="419" r="1.85"/>
<circle cx="243" cy="419" r="1.85"/>
</g>
<path d="M182.6 432.5C183.4 431.8 186 429.8 187.5 428.3C189.1 426.7 190.5 425 191.8 423.3C193.1 421.6 194.3 418.9 195.4 418.3C196.4 417.7 197.1 419 198.2 419.7C199.3 420.4 200.2 422.1 201.8 422.6C203.3 423.1 205.1 422.7 207.4 422.6C209.8 422.5 213.1 422.1 216 421.9C218.8 421.6 221.2 421.6 224.5 421.2C227.8 420.7 232.1 419.7 235.9 419C239.7 418.4 245.4 417.6 247.3 417.3" fill="none" stroke="#f01c1c" stroke-width="1.05"/>
</g>
<clipPath id="c64"><rect x="260" y="393.9" width="69.5" height="64"/></clipPath>
<g clip-path="url(#c64)">
<path d="M264.7 406.6 L263.5 424.5 L264.7 430.8 L267 434.2 L271.2 437 L275.3 442.5 L279.7 444.1 L286.3 443.5 L295.6 443.5 L300.9 446.1 L303.5 445.2 L307.1 441.7 L309.3 437.2 L308.1 431 L304 413.2 L300.7 409.9 L297.3 408.8 L292.1 408.1 L285.3 409 L282 404.6 L280.1 399.6 L278.6 398.8 L276.7 401.2 L270.4 404.3Z" fill="#000"/>
<g fill="none" stroke="#000" stroke-width="1.1">
<circle cx="281.9" cy="403.3" r="1.85"/>
<circle cx="284.3" cy="442.8" r="1.85"/>
<circle cx="280.8" cy="402.8" r="1.85"/>
<circle cx="289.2" cy="443.2" r="1.85"/>
<circle cx="280.9" cy="404.4" r="1.85"/>
<circle cx="292.2" cy="407.8" r="1.85"/>
<circle cx="307.7" cy="430.6" r="1.85"/>
<circle cx="304" cy="444.6" r="1.85"/>
<circle cx="274.7" cy="402.4" r="1.85"/>
<circle cx="301.8" cy="445.4" r="1.85"/>
<circle cx="285" cy="410.1" r="1.85"/>
<circle cx="263.6" cy="417.7" r="1.85"/>
<circle cx="288.7" cy="442.4" r="1.85"/>
<circle cx="264.8" cy="420.2" r="1.85"/>
<circle cx="307.9" cy="438.1" r="1.85"/>
<circle cx="304.7" cy="417.1" r="1.85"/>
<circle cx="303.8" cy="413.6" r="1.85"/>
<circle cx="270.7" cy="404.9" r="1.85"/>
<circle cx="298.2" cy="444.7" r="1.85"/>
<circle cx="263.6" cy="423.1" r="1.85"/>
<circle cx="292.7" cy="443.2" r="1.85"/>
<circle cx="263.7" cy="415.3" r="1.85"/>
<circle cx="275" cy="402.1" r="1.85"/>
<circle cx="301.8" cy="410.9" r="1.85"/>
<circle cx="288.7" cy="409" r="1.85"/>
<circle cx="265.8" cy="430.4" r="1.85"/>
<circle cx="273.5" cy="439.1" r="1.85"/>
<circle cx="265" cy="414.8" r="1.85"/>
<circle cx="291.7" cy="408.9" r="1.85"/>
<circle cx="284.1" cy="407.1" r="1.85"/>
<circle cx="265.3" cy="410.6" r="1.85"/>
<circle cx="264.9" cy="431.7" r="1.85"/>
<circle cx="273.2" cy="438" r="1.85"/>
<circle cx="280.3" cy="443.6" r="1.85"/>
<circle cx="263.5" cy="421.4" r="1.85"/>
<circle cx="278.7" cy="443.8" r="1.85"/>
<circle cx="289.7" cy="409.2" r="1.85"/>
<circle cx="276.5" cy="443.3" r="1.85"/>
<circle cx="305.1" cy="442.3" r="1.85"/>
<circle cx="286.6" cy="442.3" r="1.85"/>
<circle cx="308.7" cy="436.9" r="1.85"/>
<circle cx="276.8" cy="442.4" r="1.85"/>
<circle cx="308.2" cy="432.9" r="1.85"/>
<circle cx="297.7" cy="443.4" r="1.85"/>
<circle cx="295.4" cy="408.8" r="1.85"/>
<circle cx="296.9" cy="408.5" r="1.85"/>
<circle cx="267.7" cy="405.8" r="1.85"/>
<circle cx="295.3" cy="443.1" r="1.85"/>
<circle cx="271.7" cy="436.5" r="1.85"/>
<circle cx="285.6" cy="409.4" r="1.85"/>
<circle cx="265.2" cy="406.8" r="1.85"/>
<circle cx="264.9" cy="411.8" r="1.85"/>
<circle cx="280.9" cy="400.6" r="1.85"/>
<circle cx="263.5" cy="425.7" r="1.85"/>
<circle cx="305.4" cy="441.7" r="1.85"/>
<circle cx="279.3" cy="399.7" r="1.85"/>
<circle cx="274.6" cy="441.3" r="1.85"/>
<circle cx="283" cy="405.6" r="1.85"/>
<circle cx="278.4" cy="400.6" r="1.85"/>
<circle cx="275.7" cy="401.7" r="1.85"/>
<circle cx="269.2" cy="434.5" r="1.85"/>
<circle cx="278.4" cy="443.5" r="1.85"/>
<circle cx="285.4" cy="443.9" r="1.85"/>
<circle cx="269.5" cy="435.2" r="1.85"/>
<circle cx="297.9" cy="408.8" r="1.85"/>
<circle cx="277.8" cy="443.5" r="1.85"/>
<circle cx="281.6" cy="444.2" r="1.85"/>
<circle cx="281.1" cy="402.1" r="1.85"/>
<circle cx="306.6" cy="423.4" r="1.85"/>
<circle cx="267.4" cy="433.9" r="1.85"/>
<circle cx="271.7" cy="436.5" r="1.85"/>
<circle cx="297.5" cy="443.6" r="1.85"/>
<circle cx="306.6" cy="440.9" r="1.85"/>
<circle cx="286.7" cy="443" r="1.85"/>
<circle cx="305.5" cy="422.5" r="1.85"/>
<circle cx="304.7" cy="416.4" r="1.85"/>
<circle cx="264.2" cy="418" r="1.85"/>
<circle cx="263.9" cy="423.3" r="1.85"/>
<circle cx="302.9" cy="411.8" r="1.85"/>
<circle cx="297.3" cy="410" r="1.85"/>
<circle cx="280.5" cy="401.8" r="1.85"/>
<circle cx="307.8" cy="428.7" r="1.85"/>
<circle cx="278.1" cy="401.3" r="1.85"/>
<circle cx="282.3" cy="443.2" r="1.85"/>
<circle cx="305.1" cy="417.6" r="1.85"/>
<circle cx="265.2" cy="416.4" r="1.85"/>
<circle cx="282.8" cy="405.7" r="1.85"/>
<circle cx="282.2" cy="406.7" r="1.85"/>
<circle cx="295.1" cy="443.4" r="1.85"/>
<circle cx="268.4" cy="434.3" r="1.85"/>
<circle cx="307.3" cy="432.7" r="1.85"/>
<circle cx="272.4" cy="403.3" r="1.85"/>
<circle cx="264" cy="408.1" r="1.85"/>
<circle cx="264.7" cy="408.8" r="1.85"/>
<circle cx="264.1" cy="411.4" r="1.85"/>
<circle cx="263.9" cy="414.6" r="1.85"/>
<circle cx="264.4" cy="418" r="1.85"/>
<circle cx="262.8" cy="420.2" r="1.85"/>
<circle cx="263" cy="423.2" r="1.85"/>
<circle cx="264.3" cy="425.5" r="1.85"/>
<circle cx="263" cy="428.6" r="1.85"/>
<circle cx="265.2" cy="431.1" r="1.85"/>
<circle cx="265.7" cy="433.7" r="1.85"/>
<circle cx="266.2" cy="435.5" r="1.85"/>
<circle cx="268.7" cy="436.6" r="1.85"/>
<circle cx="271.6" cy="438.5" r="1.85"/>
<circle cx="272.6" cy="441.6" r="1.85"/>
<circle cx="274" cy="442.9" r="1.85"/>
<circle cx="276.6" cy="442.6" r="1.85"/>
<circle cx="280.7" cy="444.3" r="1.85"/>
<circle cx="282.2" cy="444.5" r="1.85"/>
<circle cx="285.2" cy="443.1" r="1.85"/>
<circle cx="286.8" cy="443.7" r="1.85"/>
<circle cx="289.2" cy="444.5" r="1.85"/>
<circle cx="292.7" cy="443.7" r="1.85"/>
<circle cx="295.2" cy="444.7" r="1.85"/>
<circle cx="298" cy="444.2" r="1.85"/>
<circle cx="298.8" cy="445.1" r="1.85"/>
<circle cx="303.4" cy="445" r="1.85"/>
<circle cx="305.1" cy="443.9" r="1.85"/>
<circle cx="306.3" cy="443.1" r="1.85"/>
<circle cx="307.2" cy="441.1" r="1.85"/>
<circle cx="309.4" cy="438.1" r="1.85"/>
<circle cx="310.2" cy="434.3" r="1.85"/>
<circle cx="308.5" cy="432.8" r="1.85"/>
<circle cx="307.5" cy="431.5" r="1.85"/>
<circle cx="308.9" cy="427.7" r="1.85"/>
<circle cx="306.2" cy="426.4" r="1.85"/>
<circle cx="305.8" cy="423" r="1.85"/>
<circle cx="306.8" cy="420.9" r="1.85"/>
<circle cx="305" cy="416.8" r="1.85"/>
<circle cx="304.8" cy="414.8" r="1.85"/>
<circle cx="303.7" cy="412.6" r="1.85"/>
<circle cx="302.9" cy="410.5" r="1.85"/>
<circle cx="301.5" cy="409.7" r="1.85"/>
<circle cx="297.8" cy="408.4" r="1.85"/>
<circle cx="295.7" cy="407.5" r="1.85"/>
<circle cx="292.5" cy="406.8" r="1.85"/>
<circle cx="291.1" cy="408.4" r="1.85"/>
<circle cx="287.9" cy="408.2" r="1.85"/>
<circle cx="285.5" cy="407.9" r="1.85"/>
<circle cx="283.6" cy="406.2" r="1.85"/>
<circle cx="280.8" cy="402.5" r="1.85"/>
<circle cx="280" cy="401.2" r="1.85"/>
<circle cx="280.2" cy="399.4" r="1.85"/>
<circle cx="277.3" cy="400.4" r="1.85"/>
<circle cx="275.3" cy="400.5" r="1.85"/>
<circle cx="273.9" cy="403.4" r="1.85"/>
<circle cx="271.1" cy="404.1" r="1.85"/>
<circle cx="268.3" cy="405" r="1.85"/>
<circle cx="266" cy="404.9" r="1.85"/>
<circle cx="277.9" cy="395.6" r="1.85"/>
<circle cx="282.9" cy="397.7" r="1.85"/>
<circle cx="283.6" cy="401.2" r="1.85"/>
<circle cx="304.9" cy="398.4" r="1.85"/>
<circle cx="304.9" cy="402.7" r="1.85"/>
<circle cx="299.3" cy="404.8" r="1.85"/>
<circle cx="312.8" cy="409.1" r="1.85"/>
<circle cx="307.8" cy="411.9" r="1.85"/>
<circle cx="311.3" cy="427.6" r="1.85"/>
<circle cx="314.9" cy="428.3" r="1.85"/>
<circle cx="324.9" cy="434.7" r="1.85"/>
<circle cx="312.1" cy="434.7" r="1.85"/>
<circle cx="313.5" cy="441.8" r="1.85"/>
<circle cx="319.2" cy="446.1" r="1.85"/>
<circle cx="320.6" cy="448.9" r="1.85"/>
<circle cx="324.1" cy="446.8" r="1.85"/>
<circle cx="312.1" cy="448.2" r="1.85"/>
<circle cx="303.5" cy="453.2" r="1.85"/>
<circle cx="302.1" cy="448.9" r="1.85"/>
<circle cx="300.7" cy="450.3" r="1.85"/>
<circle cx="280.8" cy="446.8" r="1.85"/>
<circle cx="274.4" cy="444.6" r="1.85"/>
<circle cx="263.7" cy="436.1" r="1.85"/>
<circle cx="327" cy="456" r="1.85"/>
</g>
<path d="M262.3 425.9C263.5 425.2 267 423 269.4 421.9C271.8 420.8 274.8 419.7 276.5 419.3C278.2 419 278.2 419.2 279.3 419.7C280.5 420.3 282.2 421.8 283.6 422.6C285 423.4 286 424.1 287.9 424.7C289.8 425.3 292.4 425.5 295 426.1C297.6 426.7 300.7 427.7 303.5 428.3C306.4 428.9 309.4 429.1 312.1 429.7C314.7 430.3 316.8 431.1 319.2 431.8C321.5 432.5 325.1 433.6 326.3 434" fill="none" stroke="#f01c1c" stroke-width="1.05"/>
</g>
<clipPath id="c65"><rect x="340" y="393.9" width="69" height="64"/></clipPath>
<g clip-path="url(#c65)">
<path d="M345.1 415.8 L352 418.1 L356.9 421.4 L360.4 426.5 L361.8 433.9 L364.4 440.3 L367.8 443.8 L374.1 445.6 L380.4 446.3 L383.8 445.1 L391.5 440 L393.6 435.7 L392.4 429.7 L389.7 422.9 L387.1 417.7 L379 409.7 L375.1 407.1 L366.3 402.7 L361.9 404.3 L350.9 411.2Z" fill="#000"/>
<g fill="none" stroke="#000" stroke-width="1.1">
<circle cx="390.8" cy="426.6" r="1.85"/>
<circle cx="389.1" cy="423.3" r="1.85"/>
<circle cx="377.6" cy="408.7" r="1.85"/>
<circle cx="359.6" cy="406" r="1.85"/>
<circle cx="360.1" cy="424.2" r="1.85"/>
<circle cx="357.3" cy="406.9" r="1.85"/>
<circle cx="391.9" cy="438.9" r="1.85"/>
<circle cx="390.9" cy="438.6" r="1.85"/>
<circle cx="368.5" cy="443.6" r="1.85"/>
<circle cx="375.2" cy="406.7" r="1.85"/>
<circle cx="361" cy="405.7" r="1.85"/>
<circle cx="391.6" cy="427.1" r="1.85"/>
<circle cx="360" cy="405.2" r="1.85"/>
<circle cx="364.9" cy="404.1" r="1.85"/>
<circle cx="349.1" cy="413.9" r="1.85"/>
<circle cx="387" cy="442.3" r="1.85"/>
<circle cx="359.8" cy="405.5" r="1.85"/>
<circle cx="353" cy="410.5" r="1.85"/>
<circle cx="373.8" cy="406.2" r="1.85"/>
<circle cx="361.4" cy="426.6" r="1.85"/>
<circle cx="363.8" cy="403.4" r="1.85"/>
<circle cx="356.4" cy="420.8" r="1.85"/>
<circle cx="360.2" cy="405.1" r="1.85"/>
<circle cx="387" cy="419.4" r="1.85"/>
<circle cx="358.7" cy="422" r="1.85"/>
<circle cx="356.7" cy="421" r="1.85"/>
<circle cx="374.6" cy="408" r="1.85"/>
<circle cx="387.1" cy="442.8" r="1.85"/>
<circle cx="382.3" cy="413.1" r="1.85"/>
<circle cx="357.7" cy="422.1" r="1.85"/>
<circle cx="382.6" cy="413.3" r="1.85"/>
<circle cx="379.3" cy="446" r="1.85"/>
<circle cx="368.2" cy="443.3" r="1.85"/>
<circle cx="384.1" cy="445.2" r="1.85"/>
<circle cx="367.7" cy="403.1" r="1.85"/>
<circle cx="364.1" cy="439.7" r="1.85"/>
<circle cx="386.9" cy="419.2" r="1.85"/>
<circle cx="389.9" cy="440.4" r="1.85"/>
<circle cx="392.6" cy="435.3" r="1.85"/>
<circle cx="390.2" cy="426.1" r="1.85"/>
<circle cx="354.2" cy="409.3" r="1.85"/>
<circle cx="364.6" cy="403.7" r="1.85"/>
<circle cx="392.1" cy="438.6" r="1.85"/>
<circle cx="372.6" cy="405.8" r="1.85"/>
<circle cx="386.9" cy="442.9" r="1.85"/>
<circle cx="384.8" cy="416.4" r="1.85"/>
<circle cx="385.8" cy="443.4" r="1.85"/>
<circle cx="347.4" cy="415.6" r="1.85"/>
<circle cx="377.4" cy="445.2" r="1.85"/>
<circle cx="384" cy="415.5" r="1.85"/>
<circle cx="350.5" cy="413" r="1.85"/>
<circle cx="358.3" cy="422.5" r="1.85"/>
<circle cx="364.9" cy="403.5" r="1.85"/>
<circle cx="389" cy="422.4" r="1.85"/>
<circle cx="354.1" cy="409.2" r="1.85"/>
<circle cx="359.2" cy="422.9" r="1.85"/>
<circle cx="373.7" cy="407.5" r="1.85"/>
<circle cx="378.4" cy="446.3" r="1.85"/>
<circle cx="356.8" cy="421.7" r="1.85"/>
<circle cx="362.7" cy="404.3" r="1.85"/>
<circle cx="359.7" cy="424.4" r="1.85"/>
<circle cx="378.3" cy="410.3" r="1.85"/>
<circle cx="369.7" cy="404.6" r="1.85"/>
<circle cx="358.1" cy="422.3" r="1.85"/>
<circle cx="374.8" cy="446" r="1.85"/>
<circle cx="365.9" cy="403.5" r="1.85"/>
<circle cx="364.8" cy="440.9" r="1.85"/>
<circle cx="350.7" cy="412.3" r="1.85"/>
<circle cx="390.8" cy="440.9" r="1.85"/>
<circle cx="392.1" cy="432.3" r="1.85"/>
<circle cx="361.5" cy="431.5" r="1.85"/>
<circle cx="355.9" cy="420.4" r="1.85"/>
<circle cx="355" cy="420.4" r="1.85"/>
<circle cx="387.9" cy="418.6" r="1.85"/>
<circle cx="360.4" cy="424.9" r="1.85"/>
<circle cx="376.6" cy="444.8" r="1.85"/>
<circle cx="357.6" cy="407.1" r="1.85"/>
<circle cx="388.6" cy="422.2" r="1.85"/>
<circle cx="374.5" cy="406.6" r="1.85"/>
<circle cx="352.3" cy="417" r="1.85"/>
<circle cx="360.3" cy="428" r="1.85"/>
<circle cx="347.2" cy="415.9" r="1.85"/>
<circle cx="349.7" cy="416.2" r="1.85"/>
<circle cx="343.9" cy="417" r="1.85"/>
<circle cx="348.9" cy="417.2" r="1.85"/>
<circle cx="349.4" cy="417.3" r="1.85"/>
<circle cx="353.1" cy="418.4" r="1.85"/>
<circle cx="354.2" cy="420.6" r="1.85"/>
<circle cx="356.4" cy="421" r="1.85"/>
<circle cx="358.5" cy="424.3" r="1.85"/>
<circle cx="360.6" cy="425.9" r="1.85"/>
<circle cx="360.3" cy="428.2" r="1.85"/>
<circle cx="360.2" cy="429.9" r="1.85"/>
<circle cx="361.4" cy="433.9" r="1.85"/>
<circle cx="363.3" cy="437.4" r="1.85"/>
<circle cx="364.2" cy="439.5" r="1.85"/>
<circle cx="364" cy="440.3" r="1.85"/>
<circle cx="366.3" cy="442" r="1.85"/>
<circle cx="368.1" cy="444.6" r="1.85"/>
<circle cx="370.4" cy="444.6" r="1.85"/>
<circle cx="373.3" cy="446.4" r="1.85"/>
<circle cx="376.8" cy="446.9" r="1.85"/>
<circle cx="379.2" cy="446.7" r="1.85"/>
<circle cx="381.8" cy="446.5" r="1.85"/>
<circle cx="384.3" cy="445" r="1.85"/>
<circle cx="386.9" cy="443.8" r="1.85"/>
<circle cx="389.7" cy="442.5" r="1.85"/>
<circle cx="390.1" cy="442" r="1.85"/>
<circle cx="391.6" cy="439.3" r="1.85"/>
<circle cx="393.5" cy="437" r="1.85"/>
<circle cx="394.7" cy="435.6" r="1.85"/>
<circle cx="392.6" cy="431.2" r="1.85"/>
<circle cx="393.1" cy="429.7" r="1.85"/>
<circle cx="391.1" cy="425.2" r="1.85"/>
<circle cx="390.3" cy="425" r="1.85"/>
<circle cx="390" cy="420.6" r="1.85"/>
<circle cx="388.3" cy="420.3" r="1.85"/>
<circle cx="386.8" cy="418.1" r="1.85"/>
<circle cx="384.4" cy="414.2" r="1.85"/>
<circle cx="383.5" cy="413.8" r="1.85"/>
<circle cx="380.2" cy="411.3" r="1.85"/>
<circle cx="378.6" cy="410" r="1.85"/>
<circle cx="376.3" cy="407.9" r="1.85"/>
<circle cx="375.2" cy="407.4" r="1.85"/>
<circle cx="373.3" cy="406.1" r="1.85"/>
<circle cx="370.6" cy="403.5" r="1.85"/>
<circle cx="368.1" cy="404" r="1.85"/>
<circle cx="365.4" cy="401.6" r="1.85"/>
<circle cx="363.6" cy="403.8" r="1.85"/>
<circle cx="359.8" cy="404.2" r="1.85"/>
<circle cx="359.7" cy="405.3" r="1.85"/>
<circle cx="356.6" cy="406" r="1.85"/>
<circle cx="354.8" cy="407.6" r="1.85"/>
<circle cx="352.6" cy="409" r="1.85"/>
<circle cx="349.6" cy="412.6" r="1.85"/>
<circle cx="348.4" cy="413.8" r="1.85"/>
<circle cx="344.9" cy="414" r="1.85"/>
<circle cx="401.2" cy="450.5" r="1.85"/>
<circle cx="404.1" cy="435.2" r="1.85"/>
<circle cx="393.3" cy="438.4" r="1.85"/>
<circle cx="404.2" cy="442" r="1.85"/>
<circle cx="402.3" cy="445.1" r="1.85"/>
<circle cx="391.6" cy="439.2" r="1.85"/>
<circle cx="405" cy="437.8" r="1.85"/>
<circle cx="406.1" cy="438.6" r="1.85"/>
<circle cx="391.9" cy="438.9" r="1.85"/>
<circle cx="396.8" cy="439.3" r="1.85"/>
<circle cx="396.7" cy="440.6" r="1.85"/>
<circle cx="399.6" cy="435.3" r="1.85"/>
<circle cx="392.6" cy="439.2" r="1.85"/>
<circle cx="392.5" cy="441" r="1.85"/>
<circle cx="352.2" cy="398.4" r="1.85"/>
<circle cx="360" cy="395.6" r="1.85"/>
<circle cx="361.5" cy="399.1" r="1.85"/>
<circle cx="367.9" cy="397.7" r="1.85"/>
<circle cx="346.5" cy="406.2" r="1.85"/>
<circle cx="351.5" cy="402.7" r="1.85"/>
<circle cx="355.1" cy="404.8" r="1.85"/>
<circle cx="348.7" cy="420.4" r="1.85"/>
<circle cx="352.2" cy="421.9" r="1.85"/>
<circle cx="355.1" cy="425.4" r="1.85"/>
<circle cx="394.9" cy="434.7" r="1.85"/>
<circle cx="400.6" cy="434.7" r="1.85"/>
<circle cx="403.4" cy="438.9" r="1.85"/>
<circle cx="403.4" cy="442.5" r="1.85"/>
<circle cx="394.9" cy="441.1" r="1.85"/>
<circle cx="396.3" cy="437.5" r="1.85"/>
<circle cx="403.4" cy="446.1" r="1.85"/>
<circle cx="407" cy="446.8" r="1.85"/>
<circle cx="393.5" cy="448.2" r="1.85"/>
<circle cx="384.9" cy="448.9" r="1.85"/>
<circle cx="380.7" cy="453.2" r="1.85"/>
<circle cx="403.4" cy="456" r="1.85"/>
<circle cx="392.1" cy="451.7" r="1.85"/>
</g>
<path d="M342.3 415.5C343.5 415.8 346.8 416.9 349.4 417.6C352 418.3 355.1 419.1 357.9 419.5C360.8 419.8 364.1 419.7 366.4 419.7C368.8 419.8 370.2 419 372.1 419.7C374 420.5 375.7 423.4 377.8 424.4C380 425.5 382.1 425.4 384.9 426.1C387.8 426.9 391.3 427.8 394.9 429C398.5 430.2 404.4 432.8 406.3 433.5" fill="none" stroke="#f01c1c" stroke-width="1.05"/>
</g>
<g fill="none" stroke="#383838" stroke-width="1.5">
<rect x="21.5" y="21" width="68.5" height="64.3"/>
<rect x="100.5" y="21" width="69.5" height="64.3"/>
<rect x="180.5" y="21" width="69.5" height="64.3"/>
<rect x="260" y="21" width="69.5" height="64.3"/>
<rect x="340" y="21" width="69" height="64.3"/>
<rect x="420" y="21" width="68" height="64.3"/>
<rect x="21.5" y="95.3" width="68.5" height="64.7"/>
<rect x="100.5" y="95.3" width="69.5" height="64.7"/>
<rect x="180.5" y="95.3" width="69.5" height="64.7"/>
<rect x="260" y="95.3" width="69.5" height="64.7"/>
<rect x="340" y="95.3" width="69" height="64.7"/>
<rect x="420" y="95.3" width="68" height="64.7"/>
<rect x="21.5" y="170" width="68.5" height="64.7"/>
<rect x="100.5" y="170" width="69.5" height="64.7"/>
<rect x="180.5" y="170" width="69.5" height="64.7"/>
<rect x="260" y="170" width="69.5" height="64.7"/>
<rect x="340" y="170" width="69" height="64.7"/>
<rect x="420" y="170" width="68" height="64.7"/>
<rect x="21.5" y="244.7" width="68.5" height="64.7"/>
<rect x="100.5" y="244.7" width="69.5" height="64.7"/>
<rect x="180.5" y="244.7" width="69.5" height="64.7"/>
<rect x="260" y="244.7" width="69.5" height="64.7"/>
<rect x="340" y="244.7" width="69" height="64.7"/>
<rect x="420" y="244.7" width="68" height="64.7"/>
<rect x="21.5" y="319.2" width="68.5" height="64.7"/>
<rect x="100.5" y="319.2" width="69.5" height="64.7"/>
<rect x="180.5" y="319.2" width="69.5" height="64.7"/>
<rect x="260" y="319.2" width="69.5" height="64.7"/>
<rect x="340" y="319.2" width="69" height="64.7"/>
<rect x="420" y="319.2" width="68" height="64.7"/>
<rect x="21.5" y="393.9" width="68.5" height="64"/>
<rect x="100.5" y="393.9" width="69.5" height="64"/>
<rect x="180.5" y="393.9" width="69.5" height="64"/>
<rect x="260" y="393.9" width="69.5" height="64"/>
<rect x="340" y="393.9" width="69" height="64"/>
<rect x="420" y="393.9" width="68" height="64"/>
</g>
<path d="M107.6 21V14.7M116.9 21V14.7M125.5 21V14.7M134.2 21V14.7M142.6 21V14.7M151.8 21V14.7M161.3 21V14.7M263.2 21V14.7M280 21V14.7M297.3 21V14.7M313.9 21V14.7M427.6 21V14.7M437.9 21V14.7M448.3 21V14.7M458.9 21V14.7M469.1 21V14.7M479.7 21V14.7M33.5 457.9V464.2M47.1 457.9V464.2M60.6 457.9V464.2M73.9 457.9V464.2M87.1 457.9V464.2M186.8 457.9V464.2M197.7 457.9V464.2M207.9 457.9V464.2M219.4 457.9V464.2M230.5 457.9V464.2M241.8 457.9V464.2M342.7 457.9V464.2M357.4 457.9V464.2M371.5 457.9V464.2M386.1 457.9V464.2M400.1 457.9V464.2M21.5 103.3H15.2M21.5 111.6H15.2M21.5 120.4H15.2M21.5 128.4H15.2M21.5 136.7H15.2M21.5 145.3H15.2M21.5 153.3H15.2M21.5 259.2H15.2M21.5 274.2H15.2M21.5 290.5H15.2M21.5 305.9H15.2M21.5 401.8H15.2M21.5 412H15.2M21.5 422.2H15.2M21.5 432.1H15.2M21.5 441.5H15.2M21.5 451.2H15.2M488 22.5H494.3M488 35.4H494.3M488 48.3H494.3M488 61H494.3M488 73.9H494.3M488 176.8H494.3M488 187.4H494.3M488 198H494.3M488 208.2H494.3M488 218.7H494.3M488 229H494.3M488 327.9H494.3M488 340.8H494.3M488 354.7H494.3M488 367.9H494.3M488 381.7H494.3" fill="none" stroke="#383838" stroke-width="1.5"/>
<g class="ax">
<text x="107" y="8.8">-1</text><g fill="#fff"><rect x="106.21" y="7.82" width="1.85" height="1.11"/><rect x="109.31" y="7.82" width="1.84" height="1.11"/></g>
<text x="124.9" y="8.8">1</text><g fill="#fff"><rect x="122.64" y="7.82" width="1.85" height="1.11"/><rect x="125.74" y="7.82" width="1.84" height="1.11"/></g>
<text x="142" y="8.8">3</text>
<text x="160.7" y="8.8">5</text>
<text x="262.6" y="8.8">-5</text>
<text x="279.4" y="8.8">0</text>
<text x="296.7" y="8.8">5</text>
<text x="313.3" y="8.8">10</text><g fill="#fff"><rect x="308.57" y="7.82" width="1.85" height="1.11"/><rect x="311.68" y="7.82" width="1.84" height="1.11"/></g>
<text x="427" y="8.8">-3</text>
<text x="447.7" y="8.8">-1</text><g fill="#fff"><rect x="446.91" y="7.82" width="1.85" height="1.11"/><rect x="450.01" y="7.82" width="1.84" height="1.11"/></g>
<text x="468.5" y="8.8">1</text><g fill="#fff"><rect x="466.24" y="7.82" width="1.85" height="1.11"/><rect x="469.34" y="7.82" width="1.84" height="1.11"/></g>
<text x="32.9" y="477.2">-4</text>
<text x="60" y="477.2">0</text>
<text x="73.3" y="477.2">2</text>
<text x="86.5" y="477.2">4</text>
<text x="186.2" y="477.2">-2</text>
<text x="207.3" y="477.2">2</text>
<text x="229.9" y="477.2">6</text>
<text x="342.1" y="477.2">-4</text>
<text x="370.9" y="477.2">0</text>
<text x="385.5" y="477.2">2</text>
<text x="399.5" y="477.2">4</text>
<text transform="translate(8.8 103.3) rotate(-90) scale(1 1.2)">5</text>
<text transform="translate(8.8 120.4) rotate(-90) scale(1 1.2)">3</text>
<text transform="translate(8.8 136.7) rotate(-90) scale(1 1.2)">1</text><g fill="#fff" transform="translate(8.8 136.7) rotate(-90) scale(1 1.2)"><rect x="-2.26" y="-0.98" width="1.85" height="1.11"/><rect x="0.84" y="-0.98" width="1.84" height="1.11"/></g>
<text transform="translate(8.8 153.3) rotate(-90) scale(1 1.2)">-1</text><g fill="#fff" transform="translate(8.8 153.3) rotate(-90) scale(1 1.2)"><rect x="-0.79" y="-0.98" width="1.85" height="1.11"/><rect x="2.31" y="-0.98" width="1.84" height="1.11"/></g>
<text transform="translate(8.8 259.2) rotate(-90) scale(1 1.2)">10</text><g fill="#fff" transform="translate(8.8 259.2) rotate(-90) scale(1 1.2)"><rect x="-4.74" y="-0.98" width="1.85" height="1.11"/><rect x="-1.64" y="-0.98" width="1.84" height="1.11"/></g>
<text transform="translate(8.8 274.2) rotate(-90) scale(1 1.2)">5</text>
<text transform="translate(8.8 290.5) rotate(-90) scale(1 1.2)">0</text>
<text transform="translate(8.8 305.9) rotate(-90) scale(1 1.2)">-5</text>
<text transform="translate(8.8 412) rotate(-90) scale(1 1.2)">1</text><g fill="#fff" transform="translate(8.8 412) rotate(-90) scale(1 1.2)"><rect x="-2.26" y="-0.98" width="1.85" height="1.11"/><rect x="0.84" y="-0.98" width="1.84" height="1.11"/></g>
<text transform="translate(8.8 432.1) rotate(-90) scale(1 1.2)">-1</text><g fill="#fff" transform="translate(8.8 432.1) rotate(-90) scale(1 1.2)"><rect x="-0.79" y="-0.98" width="1.85" height="1.11"/><rect x="2.31" y="-0.98" width="1.84" height="1.11"/></g>
<text transform="translate(8.8 451.2) rotate(-90) scale(1 1.2)">-3</text>
<text transform="translate(509.3 22.5) rotate(-90) scale(1 1.2)">4</text>
<text transform="translate(509.3 35.4) rotate(-90) scale(1 1.2)">2</text>
<text transform="translate(509.3 48.3) rotate(-90) scale(1 1.2)">0</text>
<text transform="translate(509.3 73.9) rotate(-90) scale(1 1.2)">-4</text>
<text transform="translate(509.3 187.4) rotate(-90) scale(1 1.2)">6</text>
<text transform="translate(509.3 208.2) rotate(-90) scale(1 1.2)">2</text>
<text transform="translate(509.3 229) rotate(-90) scale(1 1.2)">-2</text>
<text transform="translate(509.3 327.9) rotate(-90) scale(1 1.2)">4</text>
<text transform="translate(509.3 340.8) rotate(-90) scale(1 1.2)">2</text>
<text transform="translate(509.3 354.7) rotate(-90) scale(1 1.2)">0</text>
<text transform="translate(509.3 381.7) rotate(-90) scale(1 1.2)">-4</text>
</g>
<text transform="translate(54.7 59.5) scale(1.065 1)" font-size="17" text-anchor="middle" style="stroke-width:0.15px">RL</text>
<text transform="translate(135 134.7) scale(1.065 1)" font-size="17" text-anchor="middle" style="stroke-width:0.15px">SI</text>
<text transform="translate(214.3 209.1) scale(1.065 1)" font-size="17" text-anchor="middle" style="stroke-width:0.15px">AP</text>
<text transform="translate(285.2 282.1) scale(1.24 1.0)" class="sf" font-size="16">&#952;</text>
<text x="295.7" y="291.7" class="sf" font-size="11.2">RL</text>
<text transform="translate(367.3 357.1) scale(1.24 1.0)" class="sf" font-size="16">&#952;</text>
<text x="376.8" y="367.4" class="sf" font-size="11.2">SI</text>
<text transform="translate(446.2 430.8) scale(1.24 1.0)" class="sf" font-size="16">&#952;</text>
<text x="455.7" y="439" class="sf" font-size="11.2">AP</text>
<text x="134.8" y="58.9" font-size="12.6" text-anchor="middle" style="stroke-width:0.25px">Cor= -0.23</text>
<text x="214.2" y="57.9" font-size="10.5" text-anchor="middle" style="stroke-width:0.38px">Cor= -0.044</text>
<text x="293.8" y="58.4" font-size="10.9" text-anchor="middle" style="stroke-width:0.38px">Cor= -0.01</text><g fill="#fff"><rect x="313.89" y="57.33" width="2.38" height="1.39"/><rect x="317.38" y="57.33" width="2.39" height="1.39"/></g>
<text x="373.9" y="58.2" font-size="10.9" text-anchor="middle" style="stroke-width:0.38px">Cor= 0.059</text>
<text x="453.4" y="57.6" font-size="9.1" text-anchor="middle" style="stroke-width:0.38px">Cor= -0.0057</text>
<text x="214.8" y="134.4" font-size="14.2" text-anchor="middle" style="stroke-width:0.25px">Cor= 0.66</text>
<text x="294" y="132" font-size="10.5" text-anchor="middle" style="stroke-width:0.38px">Cor= -0.057</text>
<text x="374.3" y="132.8" font-size="12.6" text-anchor="middle" style="stroke-width:0.25px">Cor= -0.19</text><g fill="#fff"><rect x="390.68" y="131.66" width="2.63" height="1.39"/><rect x="394.53" y="131.66" width="2.63" height="1.39"/></g>
<text x="453.8" y="132" font-size="10.6" text-anchor="middle" style="stroke-width:0.38px">Cor= -0.083</text>
<text x="294.1" y="207.2" font-size="10.5" text-anchor="middle" style="stroke-width:0.38px">Cor= -0.045</text>
<text x="373.5" y="207.6" font-size="10.9" text-anchor="middle" style="stroke-width:0.38px">Cor= -0.14</text><g fill="#fff"><rect x="387.55" y="206.53" width="2.38" height="1.39"/><rect x="391.03" y="206.53" width="2.39" height="1.39"/></g>
<text x="453.9" y="207.7" font-size="11" text-anchor="middle" style="stroke-width:0.38px">Cor= 0.085</text>
<text x="374.1" y="282.6" font-size="12.6" text-anchor="middle" style="stroke-width:0.25px">Cor= 0.12</text><g fill="#fff"><rect x="388.39" y="281.46" width="2.63" height="1.39"/><rect x="392.24" y="281.46" width="2.63" height="1.39"/></g>
<text x="453.9" y="282.6" font-size="12.5" text-anchor="middle" style="stroke-width:0.25px">Cor= -0.32</text>
<text x="453.9" y="357.1" font-size="12.5" text-anchor="middle" style="stroke-width:0.25px">Cor= -0.30</text>
</g>
</svg></div>
</body></html>
